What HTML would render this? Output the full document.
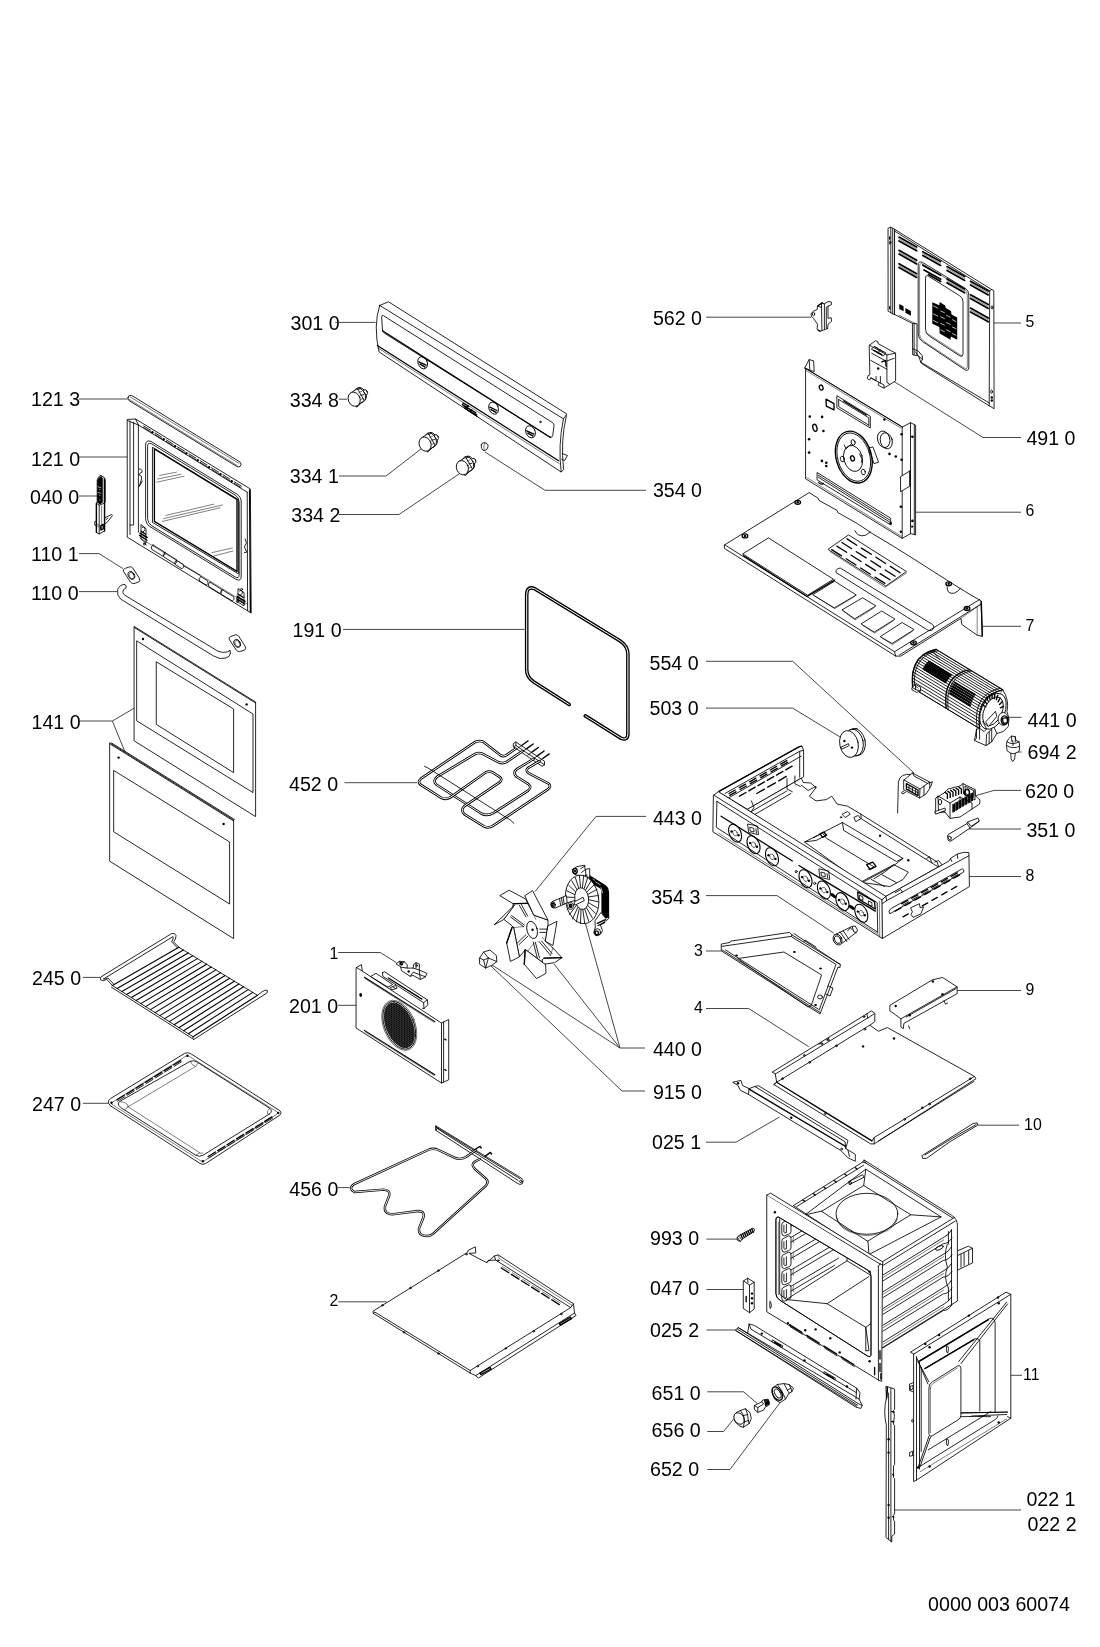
<!DOCTYPE html>
<html><head><meta charset="utf-8"><title>Exploded view</title>
<style>
html,body{margin:0;padding:0;background:#fff;}
svg{display:block;}
text{font-family:"Liberation Sans",sans-serif;fill:#000;stroke:none;}
.L{font-size:21px;}
.S{font-size:17px;stroke:#000;stroke-width:0.3px;}
.l{stroke:#333;stroke-width:0.9;fill:none;}
.p{stroke:#000;stroke-width:0.85;fill:none;stroke-linejoin:round;stroke-linecap:round;}
.w{stroke:#000;stroke-width:0.85;fill:#fff;stroke-linejoin:round;stroke-linecap:round;}
.t{stroke:#000;stroke-width:0.5;fill:none;stroke-linejoin:round;stroke-linecap:round;}
.h{stroke:#000;stroke-width:1.35;fill:none;stroke-linejoin:round;stroke-linecap:round;}
.k{fill:#000;stroke:none;}
</style></head><body>
<svg width="1100" height="1647" viewBox="0 0 1100 1647">
<rect width="1100" height="1647" fill="#fff"/>
<!-- 00_labels.svg -->
<g class="L" opacity="0.999">
<text transform="translate(31,406.2) scale(.935,1)">121 3</text>
<text transform="translate(31,466.2) scale(.935,1)">121 0</text>
<text transform="translate(30,504.2) scale(.935,1)">040 0</text>
<text transform="translate(31,560.9) scale(.935,1)">110 1</text>
<text transform="translate(31,600.2) scale(.935,1)">110 0</text>
<text transform="translate(31.5,729) scale(.935,1)">141 0</text>
<text transform="translate(32,985.2) scale(.935,1)">245 0</text>
<text transform="translate(32,1110.9) scale(.935,1)">247 0</text>
<text transform="translate(290.5,330.4) scale(.935,1)">301 0</text>
<text transform="translate(289.8,406.7) scale(.935,1)">334 8</text>
<text transform="translate(289.8,482.8) scale(.935,1)">334 1</text>
<text transform="translate(291.3,521.8) scale(.935,1)">334 2</text>
<text transform="translate(652.9,496.5) scale(.935,1)">354 0</text>
<text transform="translate(292.5,637) scale(.935,1)">191 0</text>
<text transform="translate(289,791.3) scale(.935,1)">452 0</text>
<text transform="translate(652.9,825) scale(.935,1)">443 0</text>
<text transform="translate(289,1013) scale(.935,1)">201 0</text>
<text transform="translate(652.9,1056.1) scale(.935,1)">440 0</text>
<text transform="translate(652.9,1098.8) scale(.935,1)">915 0</text>
<text transform="translate(289.3,1196) scale(.935,1)">456 0</text>
<text transform="translate(652.9,324.6) scale(.935,1)">562 0</text>
<text transform="translate(1026.4,445.3) scale(.935,1)">491 0</text>
<text transform="translate(649.5,670.1) scale(.935,1)">554 0</text>
<text transform="translate(649.5,715.2) scale(.935,1)">503 0</text>
<text transform="translate(1027.5,726.5) scale(.935,1)">441 0</text>
<text transform="translate(1027.5,759.1) scale(.935,1)">694 2</text>
<text transform="translate(1025.1,797.6) scale(.935,1)">620 0</text>
<text transform="translate(1026.4,836.5) scale(.935,1)">351 0</text>
<text transform="translate(651.2,904.3) scale(.935,1)">354 3</text>
<text transform="translate(652,1149) scale(.935,1)">025 1</text>
<text transform="translate(650,1245) scale(.935,1)">993 0</text>
<text transform="translate(650,1295.1) scale(.935,1)">047 0</text>
<text transform="translate(650,1337) scale(.935,1)">025 2</text>
<text transform="translate(651.6,1399.7) scale(.935,1)">651 0</text>
<text transform="translate(651.6,1437.4) scale(.935,1)">656 0</text>
<text transform="translate(650,1475.8) scale(.935,1)">652 0</text>
<text transform="translate(1026.4,1506.4) scale(.935,1)">022 1</text>
<text transform="translate(1027.5,1531.4) scale(.935,1)">022 2</text>
<text transform="translate(928.1,1610.9) scale(.935,1)">0000 003 60074</text>
</g><g class="S" opacity="0.999">
<text transform="translate(1025.6,326.9) scale(.935,1)">5</text>
<text transform="translate(1025.6,516.1) scale(.935,1)">6</text>
<text transform="translate(1025.6,631.1) scale(.935,1)">7</text>
<text transform="translate(1025.6,881.2) scale(.935,1)">8</text>
<text transform="translate(1025.6,995.4) scale(.935,1)">9</text>
<text transform="translate(1024.1,1130.1) scale(.935,1)">10</text>
<text transform="translate(1023.1,1379.5) scale(.935,1)">11</text>
<text transform="translate(329.4,958.9) scale(.935,1)">1</text>
<text transform="translate(329.6,1306) scale(.935,1)">2</text>
<text transform="translate(694,955.7) scale(.935,1)">3</text>
<text transform="translate(694,1013) scale(.935,1)">4</text>
</g>
<!-- 01_door.svg -->
<path class="l" d="M 79,399 L 127.6,399"/>
<path class="l" d="M 79,457 L 127.2,457"/>
<path class="l" d="M 79,496 L 97,496"/>
<path class="l" d="M 79,553.6 L 99,553.6 L 123,568.6"/>
<path class="l" d="M 79,591.6 L 117,591.6"/>
<path class="w" d="M 128,397.4 Q 128,395 131.6,395.4 L 240,462 Q 242.4,464 240,466.6 Q 238,467.4 236,466 L 129,400.6 Q 127.6,399.4 128,397.4 Z"/>
<path class="t" d="M 130.4,397 L 239,463.4"/>
<path class="t" d="M 129.2,399.4 L 237,465.4"/>
<path class="w" d="M 127.6,419.4 L 135.6,419 L 250.4,489 L 251.2,613 L 247.2,610.6 L 127.6,537.4 Z"/>
<path class="p" d="M 130,421 L 130,534.6 M 133.6,422.2 L 133.6,525 L 130,525 M 138.4,425 L 138.4,532"/>
<path class="p" d="M 127.6,420.6 L 138.4,425 L 247.2,492.2"/>
<path class="p" d="M 135.6,419 L 138.4,425"/>
<path class="p" d="M 247.2,492.2 L 247.6,610.6"/>
<path class="h" d="M 249.6,490 L 250.4,612"/>
<path class="p" d="M 143.6,426 L 150.6,430.2"/>
<path class="p" d="M 143.6,427.6 L 150.6,431.8"/>
<path class="p" d="M 155,432.9 L 161.9,437.2"/>
<path class="p" d="M 155,434.5 L 161.9,438.8"/>
<path class="p" d="M 166.3,439.9 L 173.2,444.2"/>
<path class="p" d="M 166.3,441.5 L 173.2,445.8"/>
<path class="p" d="M 177.6,446.9 L 184.6,451.2"/>
<path class="p" d="M 177.6,448.5 L 184.6,452.8"/>
<path class="p" d="M 189,453.9 L 195.9,458.1"/>
<path class="p" d="M 189,455.5 L 195.9,459.7"/>
<path class="p" d="M 200.3,460.8 L 207.2,465.1"/>
<path class="p" d="M 200.3,462.4 L 207.2,466.7"/>
<path class="p" d="M 211.6,467.8 L 218.6,472.1"/>
<path class="p" d="M 211.6,469.4 L 218.6,473.7"/>
<path class="p" d="M 223,474.8 L 229.9,479.1"/>
<path class="p" d="M 223,476.4 L 229.9,480.7"/>
<path class="p" d="M 234.3,481.8 L 241.2,486"/>
<path class="p" d="M 234.3,483.4 L 241.2,487.6"/>
<circle class="k" cx="152.4" cy="432.3" r="1.2"/>
<circle class="k" cx="163.7" cy="439.3" r="1.2"/>
<circle class="k" cx="175" cy="446.3" r="1.2"/>
<circle class="k" cx="186.4" cy="453.3" r="1.2"/>
<circle class="k" cx="197.7" cy="460.3" r="1.2"/>
<circle class="k" cx="209" cy="467.2" r="1.2"/>
<circle class="k" cx="220.4" cy="474.2" r="1.2"/>
<circle class="k" cx="231.7" cy="481.2" r="1.2"/>
<path class="p" d="M 145.6,445 Q 145.6,439.4 151,441.4 L 237,494.2 Q 241.2,497 241.2,502 L 241.2,576 Q 241.2,582 236,579.4 L 150,526.6 Q 145.6,523.8 145.6,518.6 Z"/>
<path class="p" d="M 147.6,446 Q 147.6,442 151.6,443.8 L 235.6,495.4 Q 239.2,497.6 239.2,502.6 L 239.2,574.6 Q 239.2,579 235.2,577 L 151.2,525.4 Q 147.6,523 147.6,518.6 Z"/>
<path class="h" d="M 154.4,449 L 237,499.4 L 237,571.4 L 154.4,521.4 Z"/>
<path class="p" d="M 152.8,447.4 L 238.4,499.8 L 238.4,573.8 L 152.8,522.6 Z"/>
<path class="t" d="M 159.6,475.4 L 176.4,472.2 M 157.6,479 L 181,474.2 M 156.8,482.2 L 184,476.2"/>
<path class="t" d="M 166,515.4 L 213.6,504.2 M 163.6,518.6 L 222.4,505 M 162.4,521.4 L 220,507.8"/>
<path class="t" d="M 212,552.6 L 232.4,548 M 213.6,556 L 233,551"/>
<path class="p" d="M 139.2,469 Q 142.4,468.6 142,472.2 Q 139.2,473 139.2,475 Q 142.4,475.4 141.6,479 L 139.2,486.6 L 142.4,481"/>
<path class="p" d="M 245.2,539 L 246.4,543 L 244.4,547 L 246.8,552.2 L 244.4,552.6"/>
<path class="p" d="M 153,545 L 164.2,551.9 Q 165.8,554.7 163,556.3 L 151.8,549.4 Q 150.2,546.6 153,545 Z"/>
<path class="p" d="M 165,552.6 L 176.2,559.5 Q 177.8,562.3 175,563.9 L 163.8,557 Q 162.2,554.2 165,552.6 Z"/>
<path class="p" d="M 176.4,560.2 L 183.2,564.4 Q 184.8,567.2 182,568.8 L 175.2,564.6 Q 173.6,561.8 176.4,560.2 Z"/>
<path class="p" d="M 200.8,576.6 L 207.6,580.8 Q 209.2,583.6 206.4,585.2 L 199.6,581 Q 198,578.2 200.8,576.6 Z"/>
<path class="p" d="M 210,582.2 L 221.2,589.1 Q 222.8,591.9 220,593.5 L 208.8,586.6 Q 207.2,583.8 210,582.2 Z"/>
<path class="p" d="M 222.4,589.8 L 233.6,596.7 Q 235.2,599.5 232.4,601.1 L 221.2,594.2 Q 219.6,591.4 222.4,589.8 Z"/>
<path class="t" d="M 140,538 L 247.2,604"/>
<path class="p" d="M 184,566 L 200,575.4"/>
<path class="p" d="M 141,525 L 141,539 L 146,543 L 146,529 Z M 142.4,527.4 Q 145.2,525.8 144.8,529.8 L 142.4,533 M 140,533 L 147.6,537.4 M 139.2,535.4 L 147.2,540.2 M 144,543 L 146.4,545"/>
<circle class="p" cx="144.4" cy="544" r="1"/>
<path class="p" d="M 238,589 L 238,602 L 244,605.8 L 244,593 Z M 239.6,591 Q 242.4,589 242.4,593 L 239.6,596.2 M 236.8,596.2 L 245.2,601 M 236.4,598.6 L 244.8,603.8"/>
<circle class="p" cx="237.2" cy="601.4" r="1"/>
<circle class="p" cx="241.6" cy="589.4" r="1"/>
<path class="h" d="M 140,533.4 L 146.8,537.4 M 139.6,535.4 L 146.4,539.8 M 141.2,531.4 L 145.6,534.2"/>
<path class="h" d="M 237.2,596.6 L 244.8,601.4 M 236.8,599 L 244.4,603.8 M 238.4,594.2 L 243.2,597.4"/>
<!-- 02_handle.svg -->
<path class="w" d="M 101,475.6 L 104.4,477.6 L 105.2,480 L 105.2,502 L 104.4,503.2 L 104.4,531 L 99.2,534 L 96.4,532.4 L 96.4,503.2 L 97.2,502 L 97.2,480 L 98.4,477.2 Z"/>
<path class="k" d="M 97.2,480.4 L 99.2,477.6 L 101,476.4 L 102.4,478 L 102.4,502.4 L 100,504.4 L 97.2,502.4 Z"/>
<path class="p" d="M 98,486.8 L 100.8,487.6 M 98,492.4 L 100.8,493.2" style="stroke:#fff;stroke-width:0.6"/>
<circle class="w" cx="99.8" cy="489.4" r="0.5" style="stroke:none"/>
<circle class="w" cx="99.8" cy="495.2" r="0.5" style="stroke:none"/>
<circle class="w" cx="99.8" cy="500" r="0.5" style="stroke:none"/>
<path class="h" d="M 104.6,478.8 L 104.6,531 M 96.4,503.6 L 96.4,532.4"/>
<path class="p" d="M 102.8,478 L 102.8,502.4 M 104.4,503.2 L 99.2,505.2 L 96.4,503.2 M 99.2,505.2 L 99.2,534 M 101,475.6 L 101,478"/>
<path class="t" d="M 101.6,506 L 101.6,530 M 97.2,524 L 99.2,525.2 M 97.2,526 L 99.2,527.2"/>
<path class="p" d="M 104.4,518 L 111.6,514.4 L 112.4,515.6 L 107.2,522.4 L 104.4,524 M 106,519.6 L 108,518"/>
<path class="p" d="M 96.4,521 L 94.8,521.6 L 94.8,525.2 L 96.4,526"/>
<path class="h" d="M 100.8,525.6 L 103.2,524.4 L 103.2,528.8 L 100.8,530 Z"/>
<path class="w" d="M 123.2,570.8 Q 122.8,569.2 125.2,568.4 L 129.6,566.8 Q 131.2,566.4 132.8,568 L 139.2,578 Q 140.8,580.8 138.8,582 L 134,583.6 Q 132.4,584 130.8,582.4 Z"/>
<ellipse class="p" cx="131.4" cy="575.4" rx="3" ry="4.2" transform="rotate(-28 131.4 575.4)"/>
<ellipse class="t" cx="131.6" cy="575.6" rx="2.2" ry="3.4" transform="rotate(-28 131.6 575.6)"/>
<path class="w" d="M 229,638.8 Q 228.6,637.2 231,636.4 L 235.4,634.8 Q 237,634.4 238.6,636 L 245,646 Q 246.6,648.8 244.6,650 L 239.8,651.6 Q 238.2,652 236.6,650.4 Z"/>
<ellipse class="p" cx="237.2" cy="643.4" rx="3" ry="4.2" transform="rotate(-28 237.2 643.4)"/>
<ellipse class="t" cx="237.4" cy="643.6" rx="2.2" ry="3.4" transform="rotate(-28 237.4 643.6)"/>
<path class="p" d="M 124.4,584.4 Q 120,584.4 117.6,589.6 Q 116.4,595.2 120.8,599.2 L 213.6,656 Q 220,660 226,658 Q 230,656.8 230.4,653.6"/>
<path class="p" d="M 124.4,584.4 Q 127.2,585.2 126,588 Q 122.4,589.2 122.8,592.4 Q 123.2,594.4 126,596 L 218,651.2 Q 222.4,653.2 227.2,652 Q 229.6,651.2 230,650 L 230.4,653.6"/>
<!-- 03_glass.svg -->
<path class="l" d="M 79,721 L 112.4,721 L 134.4,708 M 112.4,721 L 125,752"/>
<path class="w" d="M 134.4,626.6 L 255.6,702 L 255.6,816.6 L 134.4,741 Z"/>
<path class="p" d="M 134.4,627.6 L 255.6,703"/>
<path class="p" d="M 137,641 L 253,714 L 253,792.6 L 137,721 Z"/>
<path class="p" d="M 156.6,662 L 233.6,709 L 233.6,772.6 L 156.6,724.6 Z"/>
<circle class="k" cx="143" cy="639" r="1.2"/>
<circle class="k" cx="246.6" cy="704.4" r="1.2"/>
<path class="w" d="M 110,743 L 233.6,820 L 233.6,938.6 L 110,861.4 Z"/>
<path class="p" d="M 110.4,744.2 L 233.6,821"/>
<path class="p" d="M 111.6,743 L 234.4,819.4 L 233.6,820"/>
<path class="p" d="M 114,770.6 L 229.6,842 L 229.6,904 L 114,832 Z"/>
<circle class="k" cx="118.6" cy="757.6" r="1.2"/>
<circle class="k" cx="223.6" cy="824" r="1.2"/>
<!-- 04_rack.svg -->
<path class="l" d="M 82.9,977.4 L 100.6,977.4"/>
<path class="l" d="M 82.9,1103.3 L 108.4,1103.3"/>
<path class="p" d="M 112.4,985.5 L 178.9,947.3" style="stroke-width:1.1"/>
<path class="p" d="M 117.1,988.5 L 183.5,950.1" style="stroke-width:1.1"/>
<path class="p" d="M 121.9,991.5 L 188.2,952.9" style="stroke-width:1.1"/>
<path class="p" d="M 126.6,994.5 L 192.8,955.7" style="stroke-width:1.1"/>
<path class="p" d="M 131.4,997.5 L 197.4,958.6" style="stroke-width:1.1"/>
<path class="p" d="M 136.1,1000.5 L 202,961.4" style="stroke-width:1.1"/>
<path class="p" d="M 140.9,1003.6 L 206.6,964.2" style="stroke-width:1.1"/>
<path class="p" d="M 145.6,1006.6 L 211.3,967" style="stroke-width:1.1"/>
<path class="p" d="M 150.4,1009.6 L 215.9,969.9" style="stroke-width:1.1"/>
<path class="p" d="M 155.1,1012.6 L 220.5,972.7" style="stroke-width:1.1"/>
<path class="p" d="M 159.9,1015.6 L 225.1,975.5" style="stroke-width:1.1"/>
<path class="p" d="M 164.6,1018.6 L 229.7,978.3" style="stroke-width:1.1"/>
<path class="p" d="M 169.3,1021.6 L 234.4,981.2" style="stroke-width:1.1"/>
<path class="p" d="M 174.1,1024.7 L 239,984" style="stroke-width:1.1"/>
<path class="p" d="M 178.8,1027.7 L 243.6,986.8" style="stroke-width:1.1"/>
<path class="p" d="M 183.6,1030.7 L 248.2,989.6" style="stroke-width:1.1"/>
<path class="p" d="M 188.3,1033.7 L 252.8,992.4" style="stroke-width:1.1"/>
<path class="p" d="M 193.1,1036.7 L 257.5,995.3" style="stroke-width:1.1"/>
<path class="p" d="M 112.4,985.5 L 193.1,1036.7 M 178.9,947.3 L 257.5,995.3"/>
<path class="p" d="M 111.5,987.2 L 192.2,1038.5"/>
<path class="p" d="M 101.9,976.3 L 171.7,933.5 Q 175.2,932.7 176.1,935.7 Q 176.1,939.2 173.5,941.8 L 178.9,947.3"/>
<path class="p" d="M 103.6,978.9 L 173,936.6 Q 173.9,938.3 171.7,941.8 L 177.4,947.9"/>
<path class="p" d="M 101.9,976.3 Q 99.3,977.6 100.6,979.8 Q 102.8,982 106.7,979.3 L 112.4,985.5 M 103.6,978.9 Q 104.9,979.8 108,978 L 113.7,984.1"/>
<path class="p" d="M 193.5,1039.6 L 265.1,994.2 Q 268.6,992.9 267.3,990.3 Q 265.1,989.4 261.8,992 L 257.5,995.3"/>
<path class="p" d="M 193.5,1039.6 Q 191.8,1037.8 193.1,1036.7"/>
<path class="w" d="M 108.4,1102.8 Q 107.6,1100.2 110.6,1098.5 L 184.4,1053.5 Q 187.4,1051.8 190.5,1053.5 L 279.9,1110.7 Q 282.5,1112.9 279.9,1115.1 L 205.7,1163.5 Q 203.1,1165.2 200.1,1163.5 L 110.6,1105.9 Z"/>
<path class="t" d="M 111.5,1102.8 L 186.1,1056.1 Q 187.9,1055.3 189.6,1056.6 L 277.3,1112 Q 278.2,1113.3 276.9,1114.2 L 204.4,1160.9 Q 202.7,1161.7 200.9,1160.9 L 112.4,1104.6 Z"/>
<path class="p" d="M 118.5,1105 Q 117.2,1102.8 120.2,1101.1 L 190,1061.4 Q 193.5,1059.6 197.5,1062.3 L 269.5,1108.1 Q 272.9,1110.7 269.9,1113.7 L 203.1,1155.2 Q 199.6,1157.4 195.7,1155.2 L 121.5,1108.1 Z"/>
<path class="t" d="M 120.2,1101.5 Q 125.5,1102 128.1,1105 Q 128.1,1108.5 124.6,1109.8 M 190.5,1061.4 Q 191.8,1065.7 195.7,1066.6 L 197.9,1063.1 M 269.9,1108.1 Q 266.8,1109.8 267.3,1113.7 L 269.5,1114.2 M 195.7,1155.2 Q 198.3,1152.1 202.7,1153"/>
<path class="t" d="M 128.1,1106.8 L 195.3,1066.6 M 128.1,1106.8 L 199.6,1152.6"/>
<path class="h" d="M 117,1099.8 L 124.2,1095.3"/>
<path class="p" d="M 117.7,1101.1 L 124.9,1096.7"/>
<path class="h" d="M 126.5,1094 L 133.6,1089.6"/>
<path class="p" d="M 127.1,1095.3 L 134.3,1090.9"/>
<path class="h" d="M 135.9,1088.2 L 143,1083.8"/>
<path class="p" d="M 136.5,1089.5 L 143.7,1085.1"/>
<path class="h" d="M 145.3,1082.4 L 152.4,1078"/>
<path class="p" d="M 145.9,1083.7 L 153.1,1079.3"/>
<path class="h" d="M 154.7,1076.6 L 161.9,1072.2"/>
<path class="p" d="M 155.4,1077.9 L 162.5,1073.5"/>
<path class="h" d="M 164.1,1070.8 L 171.3,1066.4"/>
<path class="p" d="M 164.8,1072.1 L 171.9,1067.7"/>
<path class="h" d="M 173.5,1065 L 180.7,1060.6"/>
<path class="p" d="M 174.2,1066.3 L 181.3,1061.9"/>
<path class="h" d="M 208.2,1156.5 L 215.4,1152"/>
<path class="p" d="M 208.9,1157.8 L 216.1,1153.3"/>
<path class="h" d="M 217.7,1150.6 L 224.8,1146.2"/>
<path class="p" d="M 218.3,1151.9 L 225.5,1147.5"/>
<path class="h" d="M 227.1,1144.8 L 234.2,1140.3"/>
<path class="p" d="M 227.7,1146.1 L 234.9,1141.6"/>
<path class="h" d="M 236.5,1138.9 L 243.6,1134.4"/>
<path class="p" d="M 237.1,1140.2 L 244.3,1135.8"/>
<path class="h" d="M 245.9,1133 L 253.1,1128.6"/>
<path class="p" d="M 246.6,1134.3 L 253.7,1129.9"/>
<path class="h" d="M 255.3,1127.2 L 262.5,1122.7"/>
<path class="p" d="M 256,1128.5 L 263.1,1124"/>
<path class="h" d="M 264.7,1121.3 L 271.9,1116.9"/>
<path class="p" d="M 265.4,1122.6 L 272.5,1118.2"/>
<circle class="k" cx="111.5" cy="1102.8" r="1.2"/>
<circle class="k" cx="187.4" cy="1055.7" r="1.2"/>
<circle class="k" cx="278.2" cy="1112.9" r="1.2"/>
<circle class="k" cx="202.9" cy="1161.3" r="1.2"/>
<!-- 05_panel.svg -->
<path class="l" d="M 335.3,322.4 L 375.5,322.4"/>
<path class="l" d="M 338.8,399.2 L 347.1,399.2"/>
<path class="w" d="M 379.7,305.4 L 388.5,301.8 L 566.9,414.1 L 563.4,418.8 Q 557.9,446 561.2,472 L 379,351.9 Q 373.1,325.5 379.7,305.4 Z"/>
<path class="p" d="M 379.7,305.4 L 563.4,418.8"/>
<path class="h" d="M 377.3,345.5 L 558.6,460.7"/>
<path class="t" d="M 377.8,347.9 L 559.3,463.7"/>
<path class="p" d="M 383,315.5 Q 381.6,315.1 381.6,316.9 L 382.5,330.2 Q 383,332.5 384.9,333.5 L 549.9,437 Q 552.3,438 552.7,435.6 L 554.1,425.2 Q 554.1,423.3 552.3,422.4 Z"/>
<path class="h" d="M 382.5,330.7 L 550.4,437.5"/>
<ellipse class="p" cx="422.7" cy="362.8" rx="4.6" ry="6.3" transform="rotate(-25 422.7 362.8)"/>
<path class="h" d="M 418.9,361.9 L 426,365.2 M 420,364.2 L 425.2,367.1"/>
<ellipse class="p" cx="493.6" cy="408.2" rx="4.6" ry="6.3" transform="rotate(-25 493.6 408.2)"/>
<path class="h" d="M 489.8,407.2 L 496.9,410.5 M 490.9,409.6 L 496.1,412.4"/>
<ellipse class="p" cx="530.5" cy="431.8" rx="4.6" ry="6.3" transform="rotate(-25 530.5 431.8)"/>
<path class="h" d="M 526.7,430.9 L 533.8,434.2 M 527.8,433.2 L 533,436.1"/>
<circle class="p" cx="540.4" cy="421.9" r="0.8"/>
<path class="h" d="M 462.9,403 L 468.8,406.3 L 465.3,406.8 L 472.4,410.5 L 468.8,411 L 476.6,414.8 M 463.4,405.3 L 475.9,412.9 M 464.8,408.2 L 477.1,416.2 M 462.4,404.4 L 467.6,409.4"/>
<path class="p" d="M 562.2,453.6 L 567.4,455.5 L 564.5,460.7 L 561.7,459.2"/>
<path class="p" d="M 566.4,415.7 Q 560.3,441.3 563.6,469.6 L 561.2,472"/>
<ellipse class="w" cx="361.3" cy="394.2" rx="4.7" ry="7.1" transform="rotate(-25 361.3 394.2)"/>
<ellipse class="w" cx="365.5" cy="392.3" rx="1.9" ry="2.8" transform="rotate(-25 365.5 392.3)"/>
<ellipse class="w" cx="359.9" cy="395.2" rx="5.2" ry="7.6" transform="rotate(-25 359.9 395.2)"/>
<path class="w" d="M 350.9,392.8 L 357.5,388.6 L 364.1,400.4 L 357,407 Z"/>
<ellipse class="w" cx="354.2" cy="399.2" rx="5.9" ry="7.3" transform="rotate(-22 354.2 399.2)"/>
<path class="p" d="M 357.5,389.5 L 360.3,388.6 M 360.8,395.2 L 363.6,394.7 M 359.4,403.7 L 362.2,402.3"/>
<path class="t" d="M 358.9,392.3 L 361.7,391.4 M 360.8,399.4 L 363.6,398.5"/>
<ellipse class="w" cx="432.2" cy="439.1" rx="4.7" ry="7.1" transform="rotate(-25 432.2 439.1)"/>
<ellipse class="w" cx="436.4" cy="437.3" rx="1.9" ry="2.8" transform="rotate(-25 436.4 437.3)"/>
<ellipse class="w" cx="430.8" cy="440.1" rx="5.2" ry="7.6" transform="rotate(-25 430.8 440.1)"/>
<path class="w" d="M 421.8,437.7 L 428.4,433.5 L 435,445.3 L 427.9,451.9 Z"/>
<ellipse class="w" cx="425.1" cy="444.1" rx="5.9" ry="7.3" transform="rotate(-22 425.1 444.1)"/>
<path class="p" d="M 428.4,434.4 L 431.2,433.5 M 431.7,440.1 L 434.5,439.6 M 430.3,448.6 L 433.1,447.2"/>
<path class="t" d="M 429.8,437.3 L 432.7,436.3 M 431.7,444.3 L 434.5,443.4"/>
<ellipse class="w" cx="469.5" cy="462.8" rx="4.7" ry="7.1" transform="rotate(-25 469.5 462.8)"/>
<ellipse class="w" cx="473.8" cy="460.9" rx="1.9" ry="2.8" transform="rotate(-25 473.8 460.9)"/>
<ellipse class="w" cx="468.1" cy="463.7" rx="5.2" ry="7.6" transform="rotate(-25 468.1 463.7)"/>
<path class="w" d="M 459.1,461.4 L 465.7,457.1 L 472.4,468.9 L 465.3,475.5 Z"/>
<ellipse class="w" cx="462.4" cy="467.7" rx="5.9" ry="7.3" transform="rotate(-22 462.4 467.7)"/>
<path class="p" d="M 465.7,458.1 L 468.6,457.1 M 469.1,463.7 L 471.9,463.3 M 467.6,472.2 L 470.5,470.8"/>
<path class="t" d="M 467.2,460.9 L 470,459.9 M 469.1,468 L 471.9,467"/>
<path class="w" d="M 481.3,444.8 Q 481.8,442.2 484.7,442.7 L 487,443.6 Q 488.4,444.6 488,446.9 Q 487,450.7 484.2,450.7 Q 480.9,449.8 481.3,444.8 Z"/>
<path class="t" d="M 484.7,442.7 Q 483.2,446 484.2,450.7"/>
<path class="l" d="M 339,476 L 386,476 L 421,449"/>
<path class="l" d="M 339,514.5 L 399,514.5 L 459,474"/>
<path class="l" d="M 485,452 L 545,490.3 L 646,490.3"/>
<!-- 06_gasket.svg -->
<path class="l" d="M 343,629.4 L 524.8,629.4"/>
<path d="M 569.2,704.5 L 533.5,681.8 Q 526.7,677.1 526.7,669.5 L 526.7,595.1 Q 526.7,585.4 534.7,588.7 L 619.8,640.7 Q 627.9,645.9 627.9,654.2 L 627.9,733.4 Q 627.9,741.4 620.8,738.1 L 585.3,715.9" fill="none" stroke="#000" stroke-width="3.6" stroke-linejoin="round" stroke-linecap="round"/>
<path d="M 569.2,704.5 L 533.5,681.8 Q 526.7,677.1 526.7,669.5 L 526.7,595.1 Q 526.7,585.4 534.7,588.7 L 619.8,640.7 Q 627.9,645.9 627.9,654.2 L 627.9,733.4 Q 627.9,741.4 620.8,738.1 L 585.3,715.9" fill="none" stroke="#fff" stroke-width="1" stroke-linejoin="round" stroke-linecap="round"/>
<path class="l" d="M 344.5,782.7 L 417.3,782.7"/>
<path class="w" d="M 513.6,743.4 L 515.9,742 L 544.5,761.2 L 544.5,764.8 L 542.1,766.3 L 513.6,746.9 Z"/>
<path class="p" d="M 513.6,746.9 L 515.9,745.5 L 544.5,764.8 M 515.9,742 L 515.9,745.5"/>
<path class="h" d="M 522,745.2 L 528.1,740.8"/>
<path class="p" d="M 517.6,748.4 L 522,745.2"/>
<path class="h" d="M 527.1,748.4 L 533.2,744"/>
<path class="p" d="M 522.7,751.6 L 527.1,748.4"/>
<path class="h" d="M 532.2,751.9 L 538.3,747.5"/>
<path class="p" d="M 527.8,755.1 L 532.2,751.9"/>
<path class="h" d="M 538,755.4 L 544.1,751"/>
<path class="p" d="M 533.6,758.6 L 538,755.4"/>
<path class="h" d="M 543.1,758.3 L 549.2,753.9"/>
<path class="p" d="M 538.7,761.5 L 543.1,758.3"/>
<path d="M 522.7,751 L 506.7,761.9 Q 503.1,764.1 498.7,762.3 L 482.7,753.9 Q 479.2,752.2 475.7,753.6 L 436.9,776.9 Q 432.5,780.4 436.2,784.5 L 481.3,813.5 Q 487.1,816.5 493.6,812.8 L 528.1,790.6 Q 532.2,787.1 528.5,784.2 L 516.2,776.5 Q 512.5,772.1 516.9,769.2 L 533.6,759" fill="none" stroke="#000" stroke-width="2.6" stroke-linejoin="round" stroke-linecap="round"/>
<path d="M 522.7,751 L 506.7,761.9 Q 503.1,764.1 498.7,762.3 L 482.7,753.9 Q 479.2,752.2 475.7,753.6 L 436.9,776.9 Q 432.5,780.4 436.2,784.5 L 481.3,813.5 Q 487.1,816.5 493.6,812.8 L 528.1,790.6 Q 532.2,787.1 528.5,784.2 L 516.2,776.5 Q 512.5,772.1 516.9,769.2 L 533.6,759" fill="none" stroke="#fff" stroke-width="1" stroke-linejoin="round" stroke-linecap="round"/>
<path d="M 515.5,748.8 L 506,755.4 Q 503.1,757.1 500.2,755.1 L 483.5,742 Q 479.8,740.2 475.7,741.7 L 420.9,778.6 Q 417.3,781.8 420.5,784.7 L 441.3,797.8 Q 446.1,800.2 450.4,797.3 L 485.6,772.5 Q 489.3,770.5 492.9,772.5 L 499.5,776.9 Q 503.1,779.5 499.5,782.4 L 464.1,806.3 Q 460.2,810.3 464.5,814.3 L 483.9,826.3 Q 488.5,828.8 492.9,825.9 L 548.2,789.1 Q 551.8,785.9 548.2,783.3 L 528.5,773.1 Q 524.9,769.9 528.5,767.7 L 539.5,761.2" fill="none" stroke="#000" stroke-width="2.6" stroke-linejoin="round" stroke-linecap="round"/>
<path d="M 515.5,748.8 L 506,755.4 Q 503.1,757.1 500.2,755.1 L 483.5,742 Q 479.8,740.2 475.7,741.7 L 420.9,778.6 Q 417.3,781.8 420.5,784.7 L 441.3,797.8 Q 446.1,800.2 450.4,797.3 L 485.6,772.5 Q 489.3,770.5 492.9,772.5 L 499.5,776.9 Q 503.1,779.5 499.5,782.4 L 464.1,806.3 Q 460.2,810.3 464.5,814.3 L 483.9,826.3 Q 488.5,828.8 492.9,825.9 L 548.2,789.1 Q 551.8,785.9 548.2,783.3 L 528.5,773.1 Q 524.9,769.9 528.5,767.7 L 539.5,761.2" fill="none" stroke="#fff" stroke-width="1" stroke-linejoin="round" stroke-linecap="round"/>
<path class="p" d="M 424.5,766.3 L 428.9,768.5 L 510.4,820.1 L 514,823.4"/>
<!-- 07_fan.svg -->
<path class="l" d="M 646,816.4 L 596,816.4 L 535,891.6"/>
<path class="l" d="M 492,965 L 620,1048 L 645,1048 M 554,964 L 620,1048 M 585,922 L 620,1048"/>
<path class="l" d="M 491,966 L 622,1091 L 645,1091"/>
<path class="w" d="M 513.6,903.7 L 527.6,903.3 L 534.1,915.2 L 548,920.1 L 548,925.8 L 545.6,941.4 L 552.9,947.9 L 561.9,957.7 L 542.3,959.8 L 545.6,964.7 L 527.6,951.2 L 525.1,950 L 519.4,956.9 L 513.6,927.5 L 512,925.8 L 503.8,919.3 L 512.4,907.8 Z"/>
<path class="w" d="M 500.1,895.5 L 509.1,890.2 L 525.9,899.2 L 527.6,903.3 L 513.6,903.7 Z"/>
<path class="w" d="M 525.1,895.5 L 532.5,890.6 L 548,920.1 L 534.1,915.2 Z"/>
<path class="w" d="M 548,925.8 L 557,921.3 L 552.9,945.5 L 545.6,941.4 Z"/>
<path class="w" d="M 542.3,959.8 L 543.9,958.2 L 561.9,957.7 L 554.6,962.7 L 543.1,964.3 Z"/>
<path class="w" d="M 525.1,950 L 524.3,964.3 L 536.6,978.6 L 546,973.3 L 545.6,964.7 L 527.6,951.2 Z"/>
<path class="w" d="M 512,927.5 L 506.7,943 L 510.4,961.4 L 519.4,956.9 L 513.6,927.5 Z"/>
<path class="w" d="M 494.4,924.6 L 514.5,905 L 512.4,908.2 L 503.8,919.3 Z"/>
<path class="h" d="M 513.6,903.7 L 527.6,903.3 M 506.7,943 L 512,927.5 M 524.3,964.3 L 525.1,950 M 543.9,958.2 L 561.9,957.7"/>
<path class="p" d="M 519.4,905.4 L 525.9,916.8 M 521.4,904.5 L 527.6,916 M 510.4,916.8 L 523.5,926.6 M 511.6,915.6 L 524.3,925 M 517.3,943 L 525.9,934.8 M 519,944.6 L 527.6,936.5 M 533.3,942.2 L 537.4,958.6 M 535.3,942.2 L 539.4,957.7 M 539,941.4 L 550.5,955.3 M 541.5,941 L 552.1,953.6 M 539.8,929.1 L 547.2,929.1 M 539.8,932.4 L 546.4,932.4"/>
<path class="t" d="M 534.1,915.2 L 535.7,919.3 M 548,925.8 L 547.2,929.1 M 545.6,941.4 L 542.3,937.3 M 527.6,951.2 L 534.1,943 M 513.6,927.5 L 523.5,926.6 M 552.9,947.9 L 550.5,955.3"/>
<ellipse class="w" cx="532.1" cy="929.9" rx="5.1" ry="8.8" transform="rotate(-15 532.1 929.9)"/>
<circle class="k" cx="532.5" cy="929.8" r="1.2"/>
<path class="k" d="M 588.6,874.6 L 605,884.7 Q 609.1,887.4 609.1,892.8 L 609.1,916.7 L 605.7,918.4 L 601.4,912.5 L 601.4,891.4 Q 601.4,889.2 599.5,888.1 L 588.6,882.1 Z"/>
<path class="p" d="M 593,879 L 594.5,880.1 M 595.9,882.1 L 600.3,884.7 M 601,887.7 L 602.5,892.8" style="stroke:#fff;stroke-width:0.7"/>
<path class="w" d="M 572.6,869.5 L 577,866.6 L 584.6,865.2 L 585,869.5 L 589.7,868.5 L 589.7,876.8 L 585.7,881.2 L 579.2,876.1 L 574.1,873.9 Z"/>
<path class="p" d="M 580.6,868.8 L 585,865.9 M 581.4,872.5 L 585.7,869.5 L 585.7,881.2 M 584.6,876.1 L 586.8,874.6 L 586.8,879.7 Z"/>
<ellipse class="h" cx="575" cy="870.9" rx="2.2" ry="2.6"/>
<ellipse class="k" cx="575" cy="870.9" rx="1" ry="1.3"/>
<path class="w" d="M 595.2,920.5 L 601,912.5 L 605.7,918.4 L 609.1,916.7 L 608.3,919 L 600.3,924.8 L 602.5,930.6 L 600.3,934.3 L 595.9,935.7 L 593.7,932.8 L 595.2,927.7 Z"/>
<path class="h" d="M 597.4,923.4 L 605.4,919.7 M 598.1,925.5 L 604.6,922.6"/>
<ellipse class="p" cx="597.4" cy="932.2" rx="3.1" ry="3.5"/>
<ellipse class="h" cx="596.8" cy="932.8" rx="1.6" ry="1.9"/>
<ellipse class="w" cx="582.1" cy="899.4" rx="16.6" ry="24.4" transform="rotate(-8 582.1 899.4)"/>
<path class="p" d="M 588.6,899.7 L 598.4,901.8"/>
<path class="p" d="M 588.2,902.5 L 597.5,907.9"/>
<path class="p" d="M 587.3,905 L 595.4,913.5"/>
<path class="p" d="M 586.1,907.1 L 592.5,918.1"/>
<path class="p" d="M 584.6,908.6 L 588.8,921.4"/>
<path class="p" d="M 582.8,909.4 L 584.7,923.2"/>
<path class="p" d="M 581,909.5 L 580.5,923.4"/>
<path class="p" d="M 579.3,908.8 L 576.3,921.9"/>
<path class="p" d="M 577.7,907.5 L 572.5,919"/>
<path class="p" d="M 576.4,905.5 L 569.4,914.6"/>
<path class="p" d="M 575.4,903.1 L 567.1,909.3"/>
<path class="p" d="M 574.9,900.4 L 565.9,903.3"/>
<path class="p" d="M 574.9,897.5 L 565.7,897"/>
<path class="p" d="M 575.3,894.8 L 566.7,890.8"/>
<path class="p" d="M 576.1,892.3 L 568.7,885.3"/>
<path class="p" d="M 577.4,890.2 L 571.7,880.7"/>
<path class="p" d="M 578.9,888.7 L 575.3,877.4"/>
<path class="p" d="M 580.6,887.9 L 579.4,875.5"/>
<path class="p" d="M 582.4,887.8 L 583.7,875.3"/>
<path class="p" d="M 584.2,888.4 L 587.9,876.8"/>
<path class="p" d="M 585.8,889.8 L 591.7,879.8"/>
<path class="p" d="M 587.1,891.7 L 594.8,884.1"/>
<path class="p" d="M 588,894.2 L 597.1,889.4"/>
<path class="p" d="M 588.5,896.9 L 598.3,895.5"/>
<ellipse class="w" cx="581.7" cy="898.6" rx="6.9" ry="10.9" transform="rotate(-8 581.7 898.6)"/>
<path class="w" d="M 582.8,897.5 L 574.1,901.9 L 574.8,905.2 L 583.9,900.8 Z"/>
<path class="w" d="M 566.1,895.7 L 552.3,901.5 Q 550.1,904.5 552.3,907.4 L 555.2,908.1 L 566.8,903 Z"/>
<path class="p" d="M 559.5,898.6 L 560.6,905.2 M 561.4,897.9 L 562.5,904.5 M 563.2,897.2 L 564.1,903.9"/>
<ellipse class="p" cx="553.1" cy="904.8" rx="2.2" ry="3.1" transform="rotate(-10 553.1 904.8)"/>
<ellipse class="h" cx="553.1" cy="904.8" rx="1" ry="1.6" transform="rotate(-10 553.1 904.8)"/>
<ellipse class="w" cx="570.5" cy="905.9" rx="2.9" ry="3.6"/>
<ellipse class="k" cx="570.5" cy="905.9" rx="1.7" ry="2.3"/>
<path class="w" d="M 479.6,958 L 483.6,952 L 490,950 L 496.4,955.6 L 496.8,961.6 L 492,965.2 L 485.6,968 L 480,964.4 Z"/>
<path class="p" d="M 483.6,952 L 488.4,958 L 496.8,961.6 M 488.4,958 L 485.6,968 M 479.6,958 L 483.6,960 L 485.6,968 M 483.6,960 L 488.4,958"/>
<!-- 08_cover.svg -->
<path class="l" d="M 338.2,952.5 L 380.4,952.5 L 396.4,962.7"/>
<path class="l" d="M 338.2,1005.3 L 356.4,1005.3"/>
<path class="w" d="M 356.4,967.5 L 361.5,964.6 L 362.2,971 L 441.5,1023.1 L 448.7,1019.5 L 448.7,1079.8 L 441.5,1083 L 356.4,1028.2 Z"/>
<path class="p" d="M 356.4,967.5 L 362.2,971 M 441.5,1023.1 L 441.5,1083 M 443.6,1021.9 L 443.6,1082"/>
<path class="p" d="M 364.4,977.3 L 434.9,1021.6" style="stroke-width:1.1"/>
<path class="p" d="M 364.4,1030.4 L 434.9,1074.7" style="stroke-width:1.1"/>
<path class="t" d="M 365.1,978.7 L 434.2,1022.4"/>
<path class="t" d="M 365.1,1031.8 L 434.2,1075.5"/>
<ellipse class="h" cx="360.7" cy="995" rx="0.7" ry="1.3" transform="rotate(-20 360.7 995)"/>
<path class="h" d="M 444.8,1039.1 L 446,1039.8 M 444.8,1069.6 L 446,1070.4"/>
<path class="w" d="M 370.9,976.3 L 376,973.3 L 392.7,984.5 L 388.4,987 Z"/>
<path class="w" d="M 382.5,972.5 L 384.7,971.9 L 427.3,999.8 L 427.9,1004.9 L 424,1008.5 L 422.5,1008.3"/>
<path class="p" d="M 382.5,972.5 L 382.8,976.3 L 423.6,1002.7 L 424,1008.5 M 423.6,1002.7 L 427.3,999.8"/>
<path class="h" d="M 388.4,978 L 421.8,999.1"/>
<path class="p" d="M 390.7,987.5 L 395.6,985.3 L 397.1,988.2 L 392.1,989.9 Z M 392.7,986.7 L 395.6,988.5"/>
<clipPath id="gr"><ellipse cx="399.3" cy="1025.3" rx="13.5" ry="24.0" transform="rotate(-22 399.3 1025.3)"/></clipPath>
<g clip-path="url(#gr)">
<rect x="369.3" y="990.3" width="60" height="70" fill="#4a4a4a"/>
<path class="p" d="M369.3 975.3 L429.3 1011.3"/>
<path class="p" d="M369.3 977.3 L429.3 1013.3"/>
<path class="p" d="M369.3 979.3 L429.3 1015.3"/>
<path class="p" d="M369.3 981.3 L429.3 1017.3"/>
<path class="p" d="M369.3 983.3 L429.3 1019.3"/>
<path class="p" d="M369.3 985.3 L429.3 1021.3"/>
<path class="p" d="M369.3 987.3 L429.3 1023.3"/>
<path class="p" d="M369.3 989.3 L429.3 1025.3"/>
<path class="p" d="M369.3 991.3 L429.3 1027.3"/>
<path class="p" d="M369.3 993.3 L429.3 1029.3"/>
<path class="p" d="M369.3 995.3 L429.3 1031.3"/>
<path class="p" d="M369.3 997.3 L429.3 1033.3"/>
<path class="p" d="M369.3 999.3 L429.3 1035.3"/>
<path class="p" d="M369.3 1001.3 L429.3 1037.3"/>
<path class="p" d="M369.3 1003.3 L429.3 1039.3"/>
<path class="p" d="M369.3 1005.3 L429.3 1041.3"/>
<path class="p" d="M369.3 1007.3 L429.3 1043.3"/>
<path class="p" d="M369.3 1009.3 L429.3 1045.3"/>
<path class="p" d="M369.3 1011.3 L429.3 1047.3"/>
<path class="p" d="M369.3 1013.3 L429.3 1049.3"/>
<path class="p" d="M369.3 1015.3 L429.3 1051.3"/>
<path class="p" d="M369.3 1017.3 L429.3 1053.3"/>
<path class="p" d="M369.3 1019.3 L429.3 1055.3"/>
<path class="p" d="M369.3 1021.3 L429.3 1057.3"/>
<path class="p" d="M369.3 1023.3 L429.3 1059.3"/>
<path class="p" d="M369.3 1025.3 L429.3 1061.3"/>
<path class="p" d="M369.3 1027.3 L429.3 1063.3"/>
<path class="p" d="M369.3 1029.3 L429.3 1065.3"/>
<path class="p" d="M369.3 1031.3 L429.3 1067.3"/>
<path class="p" d="M369.3 1033.3 L429.3 1069.3"/>
<path class="p" d="M369.3 1035.3 L429.3 1071.3"/>
<path class="p" d="M369.3 1037.3 L429.3 1073.3"/>
<path class="p" d="M369.3 1039.3 L429.3 1075.3"/>
<path class="t" d="M368.1 990.3 L368.1 1060.3"/>
<path class="t" d="M370.7 990.3 L370.7 1060.3"/>
<path class="t" d="M373.3 990.3 L373.3 1060.3"/>
<path class="t" d="M375.9 990.3 L375.9 1060.3"/>
<path class="t" d="M378.5 990.3 L378.5 1060.3"/>
<path class="t" d="M381.1 990.3 L381.1 1060.3"/>
<path class="t" d="M383.7 990.3 L383.7 1060.3"/>
<path class="t" d="M386.3 990.3 L386.3 1060.3"/>
<path class="t" d="M388.9 990.3 L388.9 1060.3"/>
<path class="t" d="M391.5 990.3 L391.5 1060.3"/>
<path class="t" d="M394.1 990.3 L394.1 1060.3"/>
<path class="t" d="M396.7 990.3 L396.7 1060.3"/>
<path class="t" d="M399.3 990.3 L399.3 1060.3"/>
<path class="t" d="M401.9 990.3 L401.9 1060.3"/>
<path class="t" d="M404.5 990.3 L404.5 1060.3"/>
<path class="t" d="M407.1 990.3 L407.1 1060.3"/>
<path class="t" d="M409.7 990.3 L409.7 1060.3"/>
<path class="t" d="M412.3 990.3 L412.3 1060.3"/>
<path class="t" d="M414.9 990.3 L414.9 1060.3"/>
<path class="t" d="M417.5 990.3 L417.5 1060.3"/>
<path class="t" d="M420.1 990.3 L420.1 1060.3"/>
<path class="t" d="M422.7 990.3 L422.7 1060.3"/>
<path class="t" d="M425.3 990.3 L425.3 1060.3"/>
<path class="t" d="M427.9 990.3 L427.9 1060.3"/>
<path class="t" d="M430.5 990.3 L430.5 1060.3"/>
</g>
<ellipse class="p" cx="399.3" cy="1025.3" rx="14.5" ry="25" transform="rotate(-22 399.3 1025.3)"/>
<ellipse class="t" cx="399.3" cy="1025.3" rx="15.7" ry="26.2" transform="rotate(-22 399.3 1025.3)"/>
<path class="w" d="M 396.4,963.7 L 399.3,961.3 L 404.4,961.7 L 407.3,964.9 L 407,968.1 L 413.1,968.1 L 413.8,964.2 L 416,962.7 L 419.6,964.2 L 419.2,970 L 426.9,973.3 L 425.5,976.8 L 420.4,979.5 L 413.1,975.4 L 410.2,976.3 L 401.5,970.7 L 400.7,967.1 Z"/>
<path class="p" d="M 400.7,967.1 L 407,968.1 M 413.1,968.1 L 419.2,970 L 420.4,979.5 M 410.2,976.3 L 413.1,972.2 L 425.5,976.8 M 416,962.7 L 416,968.1 M 399.3,961.3 L 401.5,964.9 L 404.4,961.7"/>
<circle class="h" cx="401.2" cy="963.7" r="1.2"/>
<circle class="k" cx="408.7" cy="971.5" r="1.2"/>
<circle class="p" cx="416.7" cy="965.6" r="0.9"/>
<!-- 09_bottom.svg -->
<path class="l" d="M 338,1187.6 L 349.6,1187.6"/>
<path class="w" d="M 436,1126 L 521.2,1178 Q 524.4,1180.4 522.4,1183.6 Q 520,1185.6 517.2,1183.2 L 436,1130.4 Z"/>
<path class="p" d="M 436,1126 L 437,1128.4 L 518,1180.4 M 436,1130.4 L 437,1128.4"/>
<path class="p" d="M 436.4,1127.2 L 520,1178.8"/>
<circle class="p" cx="520.8" cy="1181.4" r="1.2"/>
<path class="h" d="M 474,1150 L 480,1146.4 L 481.2,1148 M 485,1156.4 L 490.4,1152.4 L 491.6,1154"/>
<path d="M 476,1150 L 466,1157 Q 460,1160.4 454.4,1157.6 L 438.4,1150 Q 433,1147.6 428,1150 L 353.6,1184.4 Q 348,1188.4 354.4,1192 L 383.6,1189.6 Q 390.4,1190 389.2,1195.6 L 385,1206.4 Q 383.6,1214 392.4,1214.4 L 418,1211 Q 425.6,1211.2 423.2,1218 L 419,1228.4 Q 418,1236.4 428,1236 Q 431.2,1235.6 433.2,1233.6 L 486,1185.6 Q 489.2,1181.6 485.6,1178.4 L 475,1169.2 Q 470.4,1164.4 475,1161.6 L 480,1159" fill="none" stroke="#000" stroke-width="2.4" stroke-linejoin="round" stroke-linecap="round"/>
<path d="M 476,1150 L 466,1157 Q 460,1160.4 454.4,1157.6 L 438.4,1150 Q 433,1147.6 428,1150 L 353.6,1184.4 Q 348,1188.4 354.4,1192 L 383.6,1189.6 Q 390.4,1190 389.2,1195.6 L 385,1206.4 Q 383.6,1214 392.4,1214.4 L 418,1211 Q 425.6,1211.2 423.2,1218 L 419,1228.4 Q 418,1236.4 428,1236 Q 431.2,1235.6 433.2,1233.6 L 486,1185.6 Q 489.2,1181.6 485.6,1178.4 L 475,1169.2 Q 470.4,1164.4 475,1161.6 L 480,1159" fill="none" stroke="#fff" stroke-width="0.9" stroke-linejoin="round" stroke-linecap="round"/>
<path class="l" d="M 338.3,1301.8 L 386.7,1301.8"/>
<path class="w" d="M 373.5,1310.9 L 467.6,1252.4 L 468.1,1250.4 L 475.3,1246.8 L 475.8,1252.9 L 468.9,1253.4 L 486.7,1262.6 L 494.4,1256 L 498.2,1254.9 L 573.5,1303.8 L 574.5,1313 L 576.1,1315.5 L 478.3,1378.1 L 475.8,1375.6 L 470.2,1373.1 L 373.5,1313.5 Z"/>
<path class="p" d="M 373.5,1313.5 L 374.7,1312 L 470.2,1370.5 L 570.7,1307.6 L 573.5,1303.8 M 470.2,1370.5 L 470.2,1373.1 M 475.8,1375.6 L 574.5,1313 M 494.4,1256 L 495.6,1260 L 570.7,1307.6 M 486.7,1262.6 L 488,1260.5 L 495.6,1260"/>
<path class="t" d="M 498.2,1254.9 L 499.2,1258.5 L 572,1305.3"/>
<path class="h" d="M 501.2,1268 L 508.8,1272.8"/>
<path class="t" d="M 502.2,1266.5 L 509.8,1271.2"/>
<path class="h" d="M 511.3,1274.4 L 518.9,1279.1"/>
<path class="t" d="M 512.3,1272.8 L 519.9,1277.6"/>
<path class="h" d="M 521.4,1280.7 L 529,1285.5"/>
<path class="t" d="M 522.4,1279.2 L 530,1284"/>
<path class="h" d="M 531.5,1287.1 L 539.1,1291.9"/>
<path class="t" d="M 532.5,1285.6 L 540.1,1290.3"/>
<path class="h" d="M 541.6,1293.4 L 549.2,1298.2"/>
<path class="t" d="M 542.6,1291.9 L 550.2,1296.7"/>
<path class="h" d="M 551.7,1299.8 L 559.3,1304.6"/>
<path class="t" d="M 552.7,1298.3 L 560.3,1303.1"/>
<path class="h" d="M 479.9,1373.1 L 490,1367.5 L 491.1,1369 L 480.9,1374.6 Z"/>
<path class="h" d="M 559.3,1323.7 L 570.5,1317.1 L 571.5,1318.6 L 560.3,1325.2 Z"/>
<circle class="p" cx="382.4" cy="1305.3" r="0.8"/>
<circle class="p" cx="410.4" cy="1288" r="0.8"/>
<circle class="p" cx="438.4" cy="1270.7" r="0.8"/>
<circle class="p" cx="466.4" cy="1254.2" r="0.8"/>
<circle class="p" cx="404" cy="1332.3" r="0.8"/>
<circle class="p" cx="438.4" cy="1353.5" r="0.8"/>
<circle class="p" cx="477.8" cy="1366.2" r="0.8"/>
<circle class="p" cx="505.8" cy="1348.4" r="0.8"/>
<circle class="p" cx="533.8" cy="1331.3" r="0.8"/>
<circle class="p" cx="561.3" cy="1314" r="0.8"/>
<circle class="p" cx="498.2" cy="1260.5" r="0.8"/>
<!-- 10_back.svg -->
<path class="l" d="M 994,323 L 1021,323"/>
<path class="l" d="M 894,381.5 L 983,437.5 L 1021,437.5"/>
<path class="w" d="M 888.4,228.1 L 890.8,227.2 L 894.9,229.5 L 894.9,314.6 L 892.7,313.9 L 888.4,311.3 Z"/>
<path class="p" d="M 890.8,227.2 L 890.8,312.7 M 892.7,228.4 L 892.7,313.9"/>
<path class="h" d="M 889.7,236.8 L 889.7,239 M 889.7,306.6 L 889.7,308.8"/>
<ellipse class="p" cx="890.1" cy="242.6" rx="0.7" ry="1.7"/>
<path class="w" d="M 894.9,229.5 L 991.6,289.5 L 993.8,290.6 L 994.1,408.7 L 989.2,405.8 L 989.2,402.9 L 920.8,362.2 L 922.5,359 L 917,355.4 L 912.7,354.9 L 912.4,323.4 L 894.9,314.6 Z"/>
<path class="p" d="M 989.2,402.9 L 989.7,290.9 L 991.6,289.5 M 989.7,290.9 L 894.9,231.3 M 920.8,362.2 L 921.8,363.7 L 989.2,405.8 M 912.7,323.4 L 917,323.8 L 917,355.4 M 914.1,323.8 L 914.1,354.9"/>
<path class="p" d="M 912.7,348.8 L 918.2,351 L 922.3,355.8 L 922.5,359 M 915.3,351.7 L 918.9,356.8 L 920.8,362.2"/>
<path class="t" d="M 899.3,315.4 L 915.3,323.4"/>
<ellipse class="p" cx="992.1" cy="307.4" rx="0.9" ry="1.7"/>
<ellipse class="p" cx="991.6" cy="391.7" rx="0.9" ry="1.7"/>
<circle class="k" cx="991.8" cy="397.5" r="1.2"/>
<circle class="k" cx="991.8" cy="400.5" r="1.2"/>
<path class="p" d="M 918.2,265.2 Q 918.2,260.4 922.5,262.4 L 965.5,288.5 Q 968.8,290.6 968.8,295 L 968.8,367 Q 968.8,372.1 964.4,369.5 L 922.5,341.5 Q 918.2,338.6 918.2,334.3 Z"/>
<path class="t" d="M 919.6,265.9 Q 919.6,262.4 922.8,264.2 L 964.4,289.5 Q 967.3,291.2 967.3,295.3 L 967.3,366.3 Q 967.3,370.1 964.1,368 L 923.4,341 Q 919.6,338.3 919.6,334.6 Z"/>
<path class="p" d="M 925.5,278.3 Q 925.5,274.3 928.9,276.4 L 959.6,295.7 Q 963,297.9 963,301.7 L 963,353.2 Q 963,357.8 959.2,355.5 L 929.2,336 Q 925.5,333.5 925.5,329.6 Z"/>
<path class="t" d="M 926.6,333.1 L 961.8,355.8"/>
<path class="k" d="M 932.3,302.3 L 939.3,305.2 L 939.7,302 L 945.1,305.5 L 945.8,308.1 L 950.9,311 L 951.6,314.6 L 957.2,317.5 L 957.2,339.8 L 950.9,336.5 L 950.5,339.8 L 939.7,333.5 L 939.3,327 L 932.3,323.8 Z"/>
<path class="p" d="M 933.5,305.9 L 937.8,308.1 M 933.5,313.9 L 937.8,316.1 M 933.5,320.5 L 937.8,322.6 M 940.7,311 L 944.4,312.7 M 940.7,316.8 L 944.4,318.6 M 940.7,323.4 L 944.4,325.1 M 940.7,329.9 L 944.4,331.7 M 946.5,315.4 L 950.2,317.1 M 946.5,322.6 L 950.2,324.4 M 946.5,329.9 L 950.2,331.7 M 952.4,319.7 L 956,321.5 M 952.4,327 L 956,328.7 M 952.4,333.5 L 956,335.3" style="stroke:#fff;stroke-width:0.7"/>
<path class="k" d="M 899.3,304 L 903.6,306.3 L 903.6,311.3 L 899.3,309 Z"/>
<path class="k" d="M 905.4,308.1 L 910.9,311 L 910.9,315.7 L 905.4,312.7 Z"/>
<path class="h" d="M 899,237.1 L 916.7,247" style="stroke-width:1.7"/>
<path class="h" d="M 899,240.9 L 916.7,250.8" style="stroke-width:1.7"/>
<path class="t" d="M 899,239 L 916.7,248.9"/>
<path class="h" d="M 899,250.3 L 916.7,260.3" style="stroke-width:1.7"/>
<path class="h" d="M 899,254.1 L 916.7,264.1" style="stroke-width:1.7"/>
<path class="t" d="M 899,252.2 L 916.7,262.2"/>
<path class="h" d="M 899,263.7 L 916.7,273.7" style="stroke-width:1.7"/>
<path class="h" d="M 899,267.5 L 916.7,277.4" style="stroke-width:1.7"/>
<path class="t" d="M 899,265.6 L 916.7,275.6"/>
<path class="h" d="M 922.8,251.7 L 940.6,261.6" style="stroke-width:1.7"/>
<path class="h" d="M 922.8,255.4 L 940.6,265.4" style="stroke-width:1.7"/>
<path class="t" d="M 922.8,253.5 L 940.6,263.5"/>
<path class="h" d="M 922.8,265.2 L 940.7,275.2" style="stroke-width:1.7"/>
<path class="h" d="M 924,270 L 940.7,279.3" style="stroke-width:1.7"/>
<path class="h" d="M 928.4,274.6 L 940.7,281.6" style="stroke-width:1.7"/>
<path class="h" d="M 947,266.6 L 964.7,276.6" style="stroke-width:1.7"/>
<path class="h" d="M 947,270.4 L 964.7,280.4" style="stroke-width:1.7"/>
<path class="t" d="M 947,268.5 L 964.7,278.5"/>
<path class="h" d="M 947,279 L 964.7,288.9" style="stroke-width:1.7"/>
<path class="h" d="M 947,282.8 L 964.7,292.7" style="stroke-width:1.7"/>
<path class="t" d="M 947,280.9 L 964.7,290.8"/>
<path class="t" d="M 947,283.4 L 964.7,293.3"/>
<path class="h" d="M 970.5,281.2 L 988.3,291.1" style="stroke-width:1.7"/>
<path class="h" d="M 970.5,285 L 988.3,294.9" style="stroke-width:1.7"/>
<path class="t" d="M 970.5,283.1 L 988.3,293"/>
<path class="h" d="M 970.5,294.7 L 988.3,304.6" style="stroke-width:1.7"/>
<path class="h" d="M 970.5,298.5 L 988.3,308.4" style="stroke-width:1.7"/>
<path class="t" d="M 970.5,296.6 L 988.3,306.5"/>
<path class="h" d="M 970.5,308.1 L 988.3,318" style="stroke-width:1.7"/>
<path class="h" d="M 970.5,311.9 L 988.3,321.8" style="stroke-width:1.7"/>
<path class="t" d="M 970.5,310 L 988.3,319.9"/>
<path class="w" d="M 869.5,345.2 L 875.3,340.8 L 877.7,341.5 L 878.2,343.7 L 895.6,353.2 L 895.6,380.8 L 889.8,384.5 L 884,388.1 L 878.2,385.2 L 878.9,382.3 L 870.9,377.9 L 869.5,380.1 L 867.3,378.6 L 868,375.7 L 869.5,375 Z"/>
<path class="p" d="M 869.5,345.2 L 886.9,354.9 L 895.6,353.2 M 886.9,354.9 L 886.9,382.3 L 889.8,384.5 M 870.9,360.5 L 886.9,369.2 M 871.6,353.2 L 886.2,361.2 L 894.2,358.3 M 871.6,348.8 L 874.5,346.6 L 886.2,353.2 L 883.3,355.8 Z M 874.5,346.6 L 877.5,348.1 M 877.5,348.8 L 880.4,350.3 L 877.5,352.9 M 880.4,350.3 L 883.3,352"/>
<path class="h" d="M 873.8,350.3 L 881.8,354.6 M 881.8,361.9 L 885.5,360.5 L 886.2,366.3"/>
<path class="p" d="M 878.9,382.3 L 884,384.9 L 884,388.1 M 870.9,377.9 L 876,380.8 L 876,376.5 M 880.4,376.5 L 880.4,383"/>
<circle class="k" cx="878.2" cy="368.5" r="1.2"/>
<!-- 11_rear.svg -->
<path class="l" d="M 916,512.2 L 1021,512.2"/>
<path class="w" d="M 805.9,368.5 L 902.2,427.1 L 910.5,422.7 L 915.6,425.2 L 915.6,534.9 L 910.5,533.6 L 902.2,538.4 L 805.9,479 Z"/>
<path class="w" d="M 804.7,367.9 L 809.1,359.6 L 813.6,360.8 L 814.2,371.7 L 805.9,368.5 Z"/>
<path class="p" d="M 809.1,359.6 L 809.8,369.1 M 804.7,367.9 L 900.9,425.9 L 902.2,427.1 M 902.2,427.1 L 902.2,538.4 M 910.5,422.7 L 910.5,533.6 M 914.3,425 L 914.3,534.4"/>
<path class="t" d="M 805.9,370.4 L 900.7,428"/>
<path class="t" d="M 806.6,477.5 L 901.6,536.4"/>
<path class="w" d="M 900.9,476.5 L 910.5,470.5 L 910.5,485.8 L 900.9,491.5 Z"/>
<path class="h" d="M 909.9,471.1 L 909.9,485.2"/>
<ellipse class="p" cx="853.8" cy="457.1" rx="17.6" ry="26.5" transform="rotate(-16 853.8 457.1)" style="stroke-width:1.4"/>
<ellipse class="p" cx="853.8" cy="457.1" rx="16.1" ry="24.7" transform="rotate(-16 853.8 457.1)"/>
<ellipse class="p" cx="853.1" cy="458.4" rx="9.2" ry="13.3" transform="rotate(-16 853.1 458.4)"/>
<ellipse class="p" cx="853.1" cy="442.4" rx="2" ry="2.8" transform="rotate(-16 853.1 442.4)"/>
<ellipse class="p" cx="842.3" cy="459" rx="2" ry="2.8" transform="rotate(-16 842.3 459)"/>
<ellipse class="p" cx="863.3" cy="472" rx="2" ry="2.8" transform="rotate(-16 863.3 472)"/>
<ellipse class="h" cx="852.5" cy="458.4" rx="1.9" ry="2.6" transform="rotate(-16 852.5 458.4)"/>
<path class="p" d="M 844.2,445 L 846.1,448.8 L 850.9,444.4 M 859.5,453.9 L 862,459 L 861.4,462.2"/>
<ellipse class="p" cx="883.7" cy="439.3" rx="6.1" ry="8.4" transform="rotate(-16 883.7 439.3)"/>
<ellipse class="p" cx="886.3" cy="440.8" rx="5.9" ry="8.2" transform="rotate(-16 886.3 440.8)"/>
<path class="p" d="M 837.2,395.9 L 870.3,416.3 L 870.3,428 L 837.2,408 Z"/>
<path class="p" d="M 838.7,399.5 L 868.8,417.8 L 868.8,425.2 M 838.7,399.5 L 838.7,406.7 L 868.8,425.2"/>
<path class="h" d="M 843.6,401 L 866.5,415"/>
<path class="h" d="M 826,399.1 L 834,403.6 L 834,409.9 L 826.3,406.1 Z"/>
<ellipse class="h" cx="821.2" cy="387.6" rx="1.8" ry="2.6" transform="rotate(-16 821.2 387.6)"/>
<ellipse class="h" cx="814.9" cy="427.8" rx="2" ry="3.6" transform="rotate(-16 814.9 427.8)"/>
<path class="p" d="M 817.4,472.7 L 890.7,518.3 L 890.7,524.9 L 817.4,480.1 Z"/>
<path class="p" d="M 818.3,475.2 L 890.1,520.3"/>
<path class="p" d="M 818.3,477.2 L 890.1,522.4"/>
<path class="h" d="M 818.7,482.6 Q 821.2,485.2 823.4,483.4"/>
<path class="p" d="M 869.1,447.9 L 872.9,446.9 L 878.6,462.2 L 874.4,463.5 Z"/>
<circle class="k" cx="809.8" cy="416.6" r="1.3"/>
<circle class="k" cx="822.1" cy="416.9" r="1.3"/>
<circle class="k" cx="823.4" cy="431" r="1.3"/>
<circle class="k" cx="821.9" cy="460.9" r="1.3"/>
<circle class="k" cx="826.3" cy="462.8" r="1.3"/>
<circle class="k" cx="826.3" cy="466" r="1.3"/>
<circle class="k" cx="889.5" cy="453.9" r="1.3"/>
<circle class="k" cx="895.8" cy="456.5" r="1.3"/>
<circle class="k" cx="809.1" cy="439.3" r="1.3"/>
<circle class="k" cx="809.1" cy="452.6" r="1.3"/>
<circle class="k" cx="901.6" cy="434.2" r="1.3"/>
<circle class="k" cx="901.6" cy="459.7" r="1.3"/>
<circle class="k" cx="900.9" cy="506.8" r="1.3"/>
<circle class="k" cx="900.9" cy="531.7" r="1.3"/>
<circle class="k" cx="890.7" cy="523.4" r="1.3"/>
<circle class="k" cx="884.4" cy="419.5" r="1.3"/>
<circle class="k" cx="912.4" cy="436.7" r="1.3"/>
<circle class="k" cx="912.4" cy="520.9" r="1.3"/>
<ellipse class="p" cx="912.1" cy="526.6" rx="0.6" ry="1.1"/>
<!-- 12_top.svg -->
<path class="l" d="M 983,626.3 L 1021,626.3"/>
<path class="w" d="M 724.7,544.8 L 809.2,492.6 L 818.1,498.2 L 818.9,500.3 L 837.2,510.5 L 837.7,512.5 L 857.5,523.7 L 872.8,533.9 L 893.2,546.1 L 913.5,558.8 L 932.6,571 L 954.3,584.8 L 970.8,595 L 981,600.8 L 982.3,636.5 L 977.2,635.2 L 961.9,624.5 L 960.9,618.4 L 900.8,656.1 L 895.7,656.1 L 724.7,548.6 Z"/>
<path class="p" d="M 724.7,544.8 L 894.5,651.7 L 979.7,599.5 M 894.5,651.7 L 895.7,656.1 M 899.5,655 L 981,604.1"/>
<path class="h" d="M 981.3,601.6 L 982.3,635.7"/>
<path class="t" d="M 960.9,618.4 L 981,604.1 M 977.2,607.2 L 977.2,635.2"/>
<path class="p" d="M 743,553.7 L 768.5,537.9 L 833.4,579.2 L 807.9,595 Z"/>
<path class="h" d="M 743.5,555.8 L 807.1,596.5 L 834.6,580.2"/>
<path class="p" d="M 813,594.5 L 834.6,581.2 L 856.3,595 L 834.6,607.7 Z"/>
<path class="p" d="M 842.3,609.7 L 862.6,597.8 L 875.9,605.9 L 855,618.6 Z"/>
<path class="p" d="M 861.4,623.7 L 881.7,611 L 895,619.1 L 874.6,631.9 Z"/>
<path class="p" d="M 880.5,636.5 L 902.1,622.5 L 914.1,629.6 L 892.4,643.3 Z"/>
<path class="t" d="M 814.8,596 L 834.6,608.7 L 854.5,596.5 M 843.8,611.3 L 855,619.9 L 874.3,607.7 M 863.1,625.5 L 874.6,633.1 L 893.2,620.9 M 882.5,638.2 L 892.4,644.6 L 912.3,631.4"/>
<path class="p" d="M 835.9,572.1 Q 835.1,569 840.2,568 L 932.6,624.5 Q 935.4,627.5 931.4,630.6 Q 928.8,631.1 926.8,629.6 Z"/>
<path class="p" d="M 828.3,549.1 L 848.6,534.9 L 906.4,571.5 L 886.1,585.8 Z"/>
<path class="t" d="M 830.1,551.7 L 885,587.3 L 906.4,573.1"/>
<path class="h" d="M 831.7,549.6 L 841.5,555.9"/>
<path class="h" d="M 846.2,558.8 L 856,565"/>
<path class="h" d="M 860.6,568 L 870.4,574.2"/>
<path class="h" d="M 875,577.1 L 884.9,583.4"/>
<path class="h" d="M 836.8,546.1 L 846.6,552.3"/>
<path class="h" d="M 851.2,555.2 L 861.1,561.5"/>
<path class="h" d="M 865.7,564.4 L 875.5,570.6"/>
<path class="h" d="M 880.1,573.6 L 890,579.8"/>
<path class="h" d="M 841.9,542.5 L 851.7,548.7"/>
<path class="h" d="M 856.3,551.7 L 866.2,557.9"/>
<path class="h" d="M 870.8,560.8 L 880.6,567.1"/>
<path class="h" d="M 885.2,570 L 895.1,576.2"/>
<path class="h" d="M 847,538.9 L 856.8,545.2"/>
<path class="h" d="M 861.4,548.1 L 871.3,554.3"/>
<path class="h" d="M 875.9,557.3 L 885.7,563.5"/>
<path class="h" d="M 890.3,566.4 L 900.1,572.7"/>
<ellipse class="h" cx="797.7" cy="502.3" rx="2.8" ry="2"/>
<circle class="k" cx="797.7" cy="502.3" r="1.2"/>
<ellipse class="h" cx="745" cy="535.9" rx="2.8" ry="2"/>
<circle class="k" cx="745" cy="535.9" r="1.2"/>
<ellipse class="h" cx="967" cy="608.5" rx="2.8" ry="2"/>
<circle class="k" cx="967" cy="608.5" r="1.2"/>
<ellipse class="h" cx="913.5" cy="642.8" rx="2.8" ry="2"/>
<circle class="k" cx="913.5" cy="642.8" r="1.2"/>
<ellipse class="h" cx="948.7" cy="583.8" rx="2.8" ry="2"/>
<circle class="k" cx="948.7" cy="583.8" r="1.2"/>
<path class="p" d="M 855,530.8 Q 857.5,537.2 865.2,535.4 L 870.3,532.1"/>
<path class="p" d="M 947.1,586.8 Q 946.6,594.5 954.3,593.2 Q 959.4,590.6 960.6,588.1"/>
<!-- 13_tfan.svg -->
<path class="l" d="M 1009,717.3 L 1021.6,717.3"/>
<path class="l" d="M 1016,752 L 1021.6,752"/>
<path class="w" d="M 936,649.5 L 933.4,650.2 L 930.9,651 L 928.6,651.9 L 926.4,652.9 L 924.4,654.1 L 922.6,655.4 L 920.9,656.9 L 919.3,658.5 L 917.9,660.2 L 916.7,662.1 L 915.6,664 L 914.7,666.2 L 913.9,668.4 L 913.3,670.8 L 912.8,673.4 L 912.5,676.1 L 912.4,678.9 L 912.4,681.8 L 912.5,684.9 L 912.8,688.1 L 979.6,728.6 L 1002.8,690 Z"/>
<path class="p" d="M 936,649.5 L 1002.8,690"/>
<path class="p" d="M 933.1,650.3 L 999.9,690.7"/>
<path class="p" d="M 930.4,651.2 L 997.2,691.6"/>
<path class="p" d="M 927.8,652.2 L 994.7,692.7"/>
<path class="p" d="M 925.5,653.4 L 992.3,693.9"/>
<path class="p" d="M 923.4,654.8 L 990.2,695.3"/>
<path class="p" d="M 921.4,656.4 L 988.2,696.8"/>
<path class="p" d="M 919.7,658.1 L 986.5,698.6"/>
<path class="p" d="M 918.1,660 L 984.9,700.5"/>
<path class="p" d="M 916.7,662.1 L 983.5,702.5"/>
<path class="p" d="M 915.5,664.3 L 982.3,704.8"/>
<path class="p" d="M 914.5,666.7 L 981.3,707.1"/>
<path class="p" d="M 913.7,669.2 L 980.5,709.7"/>
<path class="p" d="M 913.1,672 L 979.9,712.4"/>
<path class="p" d="M 912.6,674.9 L 979.5,715.3"/>
<path class="p" d="M 912.4,677.9 L 979.2,718.4"/>
<path class="p" d="M 912.4,681.1 L 979.2,721.6"/>
<path class="p" d="M 912.5,684.5 L 979.3,725"/>
<path class="p" d="M 912.8,688.1 L 979.6,728.6"/>
<path class="h" d="M 928.9,661.7 L 950.9,675.1" style="stroke-width:2"/>
<path class="h" d="M 927.6,663 L 949.7,676.3" style="stroke-width:2"/>
<path class="h" d="M 926.5,664.3 L 948.5,677.7" style="stroke-width:2"/>
<path class="h" d="M 925.4,665.8 L 947.5,679.1" style="stroke-width:2"/>
<path class="h" d="M 924.5,667.3 L 946.5,680.7" style="stroke-width:2"/>
<path class="h" d="M 923.6,668.9 L 945.7,682.3" style="stroke-width:2"/>
<path class="h" d="M 954.7,682.5 L 974.7,694.6" style="stroke-width:2"/>
<path class="h" d="M 953.5,684.3 L 973.5,696.5" style="stroke-width:2"/>
<path class="h" d="M 952.4,686.3 L 972.4,698.4" style="stroke-width:2"/>
<path class="h" d="M 951.4,688.4 L 971.5,700.6" style="stroke-width:2"/>
<path class="h" d="M 950.7,690.7 L 970.7,702.8" style="stroke-width:2"/>
<path class="h" d="M 950.1,693.1 L 970.1,705.3" style="stroke-width:2"/>
<path class="h" d="M 936,649.5 L 933.4,650.2 L 930.9,651 L 928.6,651.9 L 926.4,652.9 L 924.4,654.1 L 922.6,655.4 L 920.9,656.9 L 919.3,658.5 L 917.9,660.2 L 916.7,662.1 L 915.6,664 L 914.7,666.2 L 913.9,668.4 L 913.3,670.8 L 912.8,673.4 L 912.5,676.1 L 912.4,678.9 L 912.4,681.8 L 912.5,684.9 L 912.8,688.1"/>
<path class="p" d="M 938,650.8 L 935.4,651.4 L 932.9,652.2 L 930.6,653.1 L 928.4,654.1 L 926.4,655.3 L 924.6,656.6 L 922.9,658.1 L 921.3,659.7 L 919.9,661.4 L 918.7,663.3 L 917.6,665.3 L 916.7,667.4 L 915.9,669.7 L 915.3,672.1 L 914.8,674.6 L 914.5,677.3 L 914.4,680.1 L 914.4,683 L 914.5,686.1 L 914.8,689.3"/>
<path class="h" d="M 969.4,669.8 L 966.8,670.4 L 964.3,671.2 L 962,672.1 L 959.8,673.2 L 957.8,674.3 L 956,675.7 L 954.3,677.1 L 952.7,678.7 L 951.3,680.4 L 950.1,682.3 L 949,684.3 L 948.1,686.4 L 947.3,688.7 L 946.7,691.1 L 946.2,693.6 L 945.9,696.3 L 945.8,699.1 L 945.8,702.1 L 945.9,705.1 L 946.2,708.3"/>
<path class="p" d="M 971.4,671 L 968.8,671.6 L 966.3,672.4 L 964,673.3 L 961.8,674.4 L 959.8,675.6 L 958,676.9 L 956.3,678.3 L 954.7,679.9 L 953.3,681.6 L 952.1,683.5 L 951,685.5 L 950.1,687.6 L 949.3,689.9 L 948.7,692.3 L 948.2,694.8 L 947.9,697.5 L 947.8,700.3 L 947.8,703.3 L 947.9,706.3 L 948.2,709.6"/>
<path class="h" d="M 1002.8,690 L 1000.2,690.7 L 997.7,691.4 L 995.4,692.3 L 993.2,693.4 L 991.2,694.6 L 989.4,695.9 L 987.7,697.3 L 986.1,698.9 L 984.8,700.7 L 983.5,702.5 L 982.4,704.5 L 981.5,706.7 L 980.7,708.9 L 980.1,711.3 L 979.7,713.9 L 979.3,716.5 L 979.2,719.3 L 979.2,722.3 L 979.3,725.4 L 979.6,728.6"/>
<path class="p" d="M 1000.1,688.4 L 997.5,689 L 995,689.8 L 992.7,690.7 L 990.6,691.8 L 988.6,693 L 986.7,694.3 L 985,695.7 L 983.5,697.3 L 982.1,699 L 980.8,700.9 L 979.8,702.9 L 978.8,705 L 978.1,707.3 L 977.4,709.7 L 977,712.2 L 976.7,714.9 L 976.5,717.7 L 976.5,720.7 L 976.7,723.7 L 977,727"/>
<path class="w" d="M 1002.8,690 Q 1009.5,699.8 1007,711.3 Q 1010.2,718.9 1008.3,726.5 L 1003.2,731.6 L 996.8,733.5 L 991.7,741.8 L 986,745.6 L 974.5,740.5 L 976.5,729.1 L 979.6,728.6"/>
<ellipse class="w" cx="993" cy="711.3" rx="11.7" ry="19.1" transform="rotate(25 993 711.3)"/>
<ellipse class="p" cx="993" cy="711.3" rx="8.9" ry="15.3" transform="rotate(25 993 711.3)"/>
<path class="h" d="M 985.8,706.9 L 982.8,705.2"/>
<path class="h" d="M 986.8,703.8 L 984.2,700.8"/>
<path class="h" d="M 988.3,701.2 L 986.3,697.2"/>
<path class="h" d="M 990.1,699.5 L 988.9,694.8"/>
<path class="h" d="M 992.2,698.6 L 991.9,693.6"/>
<path class="h" d="M 994.3,698.7 L 994.9,693.7"/>
<path class="h" d="M 996.3,699.8 L 997.7,695.3"/>
<path class="h" d="M 998.1,701.8 L 1000.2,698"/>
<path class="h" d="M 999.5,704.5 L 1002.2,701.8"/>
<path class="h" d="M 1000.3,707.8 L 1003.4,706.4"/>
<path class="w" d="M 986,721.5 L 995.5,711.3 L 996.8,716.4 L 988.5,726.5 Z"/>
<ellipse class="w" cx="1003.2" cy="718.9" rx="5.1" ry="6.4"/>
<ellipse class="h" cx="1004.5" cy="720.2" rx="3.3" ry="4.3"/>
<path class="h" d="M 1002.5,718.3 L 1007,717.6 L 1007.6,722.7 L 1003.2,723.4 Z"/>
<path class="p" d="M 976.5,729.1 L 976.5,738 L 974.5,740.5 M 979.6,729.1 L 979.6,739.3 M 986,745.6 L 986.6,734.2 L 991.7,729.1 L 991.7,741.8 M 989.2,731.6 L 989.2,743.7 M 994.3,727.8 L 996.8,733.5"/>
<path class="p" d="M 982.8,721.5 L 986.6,729.1 L 984.1,731.6 L 979,727.8"/>
<path class="w" d="M 912.2,687.3 L 915.4,684.5 L 920.5,687.1 L 920.5,690.9 L 916.6,692.4 L 912.2,689.9 Z M 915.4,684.5 L 915.6,689.6 L 920.5,690.9 M 915.6,689.6 L 912.2,687.3"/>
<path class="p" d="M 925.5,654 L 933.2,651.5 L 936,649.5 M 933.2,651.5 L 937,656.5 L 939.5,659.1"/>
<path class="w" d="M 1008.9,738.6 L 1011.5,736.1 L 1015.3,736.7 L 1015.9,740.5 L 1019.1,741.8 L 1019.7,746.3 L 1019.1,751.4 L 1015.3,753.3 L 1014.6,759 L 1012.7,761.5 L 1011.1,759 L 1010.8,753.3 L 1007,750.7 L 1006.4,744.4 L 1007,741.8 Z"/>
<path class="p" d="M 1007,741.8 Q 1012.1,745.6 1019.1,741.8 M 1007,745.6 Q 1012.7,749.5 1019.5,746.3 M 1010.8,753.3 Q 1013.1,754.3 1015.3,753.3 M 1011.5,736.1 L 1011.8,741.2 M 1015.3,736.7 L 1015.3,741.8 M 1012.7,740.5 L 1013.1,745.6"/>
<!-- 14_chassis.svg -->
<path class="l" d="M 969,876.5 L 1021,876.5"/>
<path class="w" d="M 718.5,791.7 L 798.9,746.9 L 801.8,746.1 L 803.6,750.3 L 803.6,776.7 L 801.2,778.2 L 747.5,809.3 L 729,798.3 Z"/>
<path class="p" d="M 725,793.5 L 799.7,751.3 L 799.7,777.2 M 729,797.7 L 801.2,756.1 M 799.7,751.3 L 803.6,750.3"/>
<path class="h" d="M 729,793.5 L 735.2,790"/>
<path class="h" d="M 739.3,787.6 L 745.5,784.1"/>
<path class="h" d="M 749.7,781.8 L 755.8,778.2"/>
<path class="h" d="M 760,775.9 L 766.2,772.3"/>
<path class="h" d="M 770.3,770 L 776.5,766.4"/>
<path class="h" d="M 780.6,764.1 L 786.8,760.6"/>
<path class="h" d="M 729.8,795.4 L 736,791.8"/>
<path class="h" d="M 740.1,789.5 L 746.3,786"/>
<path class="h" d="M 750.4,783.6 L 756.6,780.1"/>
<path class="h" d="M 760.8,777.7 L 767,774.2"/>
<path class="h" d="M 771.1,771.8 L 777.3,768.3"/>
<path class="h" d="M 781.4,765.9 L 787.6,762.4"/>
<path class="h" d="M 739.5,796.2 L 746,792.5"/>
<path class="h" d="M 748.8,790.9 L 755.2,787.2"/>
<path class="h" d="M 758,785.6 L 764.5,781.9"/>
<path class="h" d="M 767.2,780.3 L 773.7,776.7"/>
<path class="h" d="M 776.5,775.1 L 782.9,771.4"/>
<path class="h" d="M 785.7,769.8 L 792.1,766.1"/>
<path class="h" d="M 756.7,793.5 L 764.4,789.1"/>
<path class="h" d="M 767.7,787.2 L 775.4,782.8"/>
<path class="h" d="M 778.7,780.9 L 786.3,776.4"/>
<path class="h" d="M 718.5,791.7 L 798.9,746.9 L 801.8,746.1"/>
<path class="w" d="M 747.5,809.3 L 801.2,778.2 L 803.3,782.5 L 810.7,783 L 816,787.7 L 809.4,796.2 L 816,800.9 L 826.5,799.6 L 831.8,796.2 L 837.1,804.1 L 847.6,806.2 L 860.8,814.1 L 937.3,862.1 L 938.6,866.8 L 884.6,897.1 L 881.9,899.8 Z"/>
<path class="p" d="M 751.4,811.5 L 787,790.9 M 755.4,814.1 L 791,793.5 M 787,778.5 L 787,789 L 792.3,791.7 M 794.9,775.9 L 794.9,783.8 L 800.2,786.4 M 801.2,785.1 L 808.1,790.4 L 816,786.4 L 816,787.7"/>
<path class="p" d="M 751.4,800.9 L 754,807.5 L 751.4,811.5"/>
<path class="p" d="M 842.4,814.1 L 847.6,811.5 L 850.3,814.1 L 845.5,817.3 Z M 854.2,817.3 L 858.2,815.4 L 860.8,818.8 L 856.1,821.5 Z"/>
<path class="p" d="M 804.9,841.8 L 842.4,822.5 L 903,858.4 L 893.8,865.5 L 866.1,880.5 L 861.3,882.6 Z"/>
<path class="p" d="M 842.4,822.5 L 843.7,830.4 L 896.4,861.5 L 903,858.4 M 813.4,837.8 L 822.6,833.1 L 826.5,838.3 L 868.7,863.7 L 874,866.8 L 868.7,869.5 M 804.9,841.8 L 816,840.5 L 823.9,836.5"/>
<path class="p" d="M 860.8,882.1 L 893.8,864.7 L 908.3,872.1 L 903,879.5 L 889.8,886.6 L 881.9,885.3 Z M 871.4,879.5 L 884.6,886.6 M 881.9,874.7 L 896.4,882.6 M 893.8,864.7 L 884.6,872.1 L 874,878.7"/>
<path class="h" d="M 820,833.9 L 823.9,832 L 826.5,835.2 L 822.6,837.3 Z M 866.6,864.7 L 872.7,862.1 L 876.1,866.3 L 870.1,869.5 Z"/>
<circle class="k" cx="908.3" cy="860.2" r="1.2"/>
<circle class="k" cx="880.1" cy="835.7" r="1.2"/>
<circle class="p" cx="841" cy="817.3" r="0.7"/>
<path class="p" d="M 860.8,814.1 L 861.3,818.8 L 934.6,864.7 L 938.6,866.8 M 926.7,858.4 L 929.4,856.8 L 932,862.9 M 934.6,862.1 L 938.6,860.5 L 942,864.7 L 937.3,868.1"/>
<path class="w" d="M 881.9,899.8 L 885.9,896.3 L 949.1,861 L 950.5,858.4 L 957.1,854.2 L 963.6,852.3 L 968.9,852.6 L 969.4,886.6 L 882.4,938.5 Z"/>
<path class="p" d="M 885.9,896.3 L 886.7,900.6 L 968.9,855.7 M 882.4,903.7 L 886.7,900.6 M 950.5,858.4 L 951.8,861.5 M 895.1,892.7 L 900.9,889.5 L 902.5,892.1 M 957.1,854.2 L 957.8,858.4"/>
<path class="p" d="M 890.4,909 Q 887.7,911.1 889.8,913.8 L 963.6,872.1 Q 964.7,869.5 962.6,868.9 Z"/>
<path class="h" d="M 901.7,903.7 L 907.8,900.3"/>
<path class="h" d="M 911.6,898.2 L 917.7,894.8"/>
<path class="h" d="M 921.5,892.7 L 927.6,889.3"/>
<path class="h" d="M 931.3,887.3 L 937.5,883.8"/>
<path class="h" d="M 941.2,881.8 L 947.4,878.4"/>
<path class="h" d="M 951.1,876.3 L 957.3,872.9"/>
<path class="h" d="M 895.1,911.1 L 901,907.8"/>
<path class="h" d="M 904.9,905.6 L 910.8,902.3"/>
<path class="h" d="M 914.7,900.1 L 920.6,896.8"/>
<path class="h" d="M 924.5,894.6 L 930.3,891.3"/>
<path class="h" d="M 934.3,889.1 L 940.1,885.8"/>
<path class="h" d="M 944.1,883.6 L 949.9,880.3"/>
<path class="h" d="M 953.9,878.1 L 959.7,874.8"/>
<path class="h" d="M 903,916.9 L 908.3,913.9"/>
<path class="h" d="M 912.7,911.4 L 918,908.4"/>
<path class="h" d="M 922.3,905.9 L 927.7,902.9"/>
<path class="h" d="M 932,900.4 L 937.3,897.4"/>
<path class="h" d="M 941.7,894.9 L 947,891.9"/>
<path class="h" d="M 951.3,889.5 L 956.7,886.4"/>
<path class="p" d="M 902.5,905.3 L 908.6,901.9"/>
<path class="p" d="M 912.3,899.8 L 918.4,896.4"/>
<path class="p" d="M 922.2,894.3 L 928.3,890.9"/>
<path class="p" d="M 932,888.8 L 938.1,885.4"/>
<path class="p" d="M 941.8,883.3 L 948,879.9"/>
<path class="p" d="M 951.7,877.9 L 957.8,874.4"/>
<path class="w" d="M 910.9,907.7 L 919.4,903.7 L 920.1,907.7 L 923.6,906.9 L 920.9,913.8 L 913,917.4 L 910.9,914.3 L 912.2,912.2 Z"/>
<path class="w" d="M 713.7,795.1 L 718.5,791.7 L 885.9,896.3 L 881.9,899.8 L 882.4,938.5 L 713.2,832 Z"/>
<path class="p" d="M 713.7,795.1 L 881.9,899.8 M 716.9,801.4 L 877.2,902.7 L 877.7,932.2 M 716.9,801.4 L 716.3,827.3 L 877.7,932.2"/>
<path class="t" d="M 879.3,901.1 L 879.8,937"/>
<path class="h" d="M 721.1,816.2 L 792.3,861 M 798.9,865.5 L 875.3,911.1"/>
<ellipse class="p" cx="735.1" cy="833.1" rx="5.8" ry="9.5" transform="rotate(-24 735.1 833.1)" style="stroke-width:1.1"/>
<ellipse class="t" cx="735.1" cy="833.1" rx="2.1" ry="2.9" transform="rotate(-24 735.1 833.1)"/>
<circle class="k" cx="731.6" cy="831.5" r="1.2"/>
<circle class="k" cx="738.5" cy="835.2" r="1.2"/>
<ellipse class="p" cx="753.5" cy="844.7" rx="5.8" ry="9.5" transform="rotate(-24 753.5 844.7)" style="stroke-width:1.1"/>
<ellipse class="t" cx="753.5" cy="844.7" rx="2.1" ry="2.9" transform="rotate(-24 753.5 844.7)"/>
<circle class="k" cx="750.1" cy="843.1" r="1.2"/>
<circle class="k" cx="756.9" cy="846.8" r="1.2"/>
<ellipse class="p" cx="772" cy="856.8" rx="5.8" ry="9.5" transform="rotate(-24 772 856.8)" style="stroke-width:1.1"/>
<ellipse class="t" cx="772" cy="856.8" rx="2.1" ry="2.9" transform="rotate(-24 772 856.8)"/>
<circle class="k" cx="768.5" cy="855.2" r="1.2"/>
<circle class="k" cx="775.4" cy="858.9" r="1.2"/>
<ellipse class="p" cx="805.5" cy="878.7" rx="5.8" ry="9.5" transform="rotate(-24 805.5 878.7)" style="stroke-width:1.1"/>
<ellipse class="t" cx="805.5" cy="878.7" rx="2.1" ry="2.9" transform="rotate(-24 805.5 878.7)"/>
<circle class="k" cx="802" cy="877.1" r="1.2"/>
<circle class="k" cx="808.9" cy="880.8" r="1.2"/>
<ellipse class="p" cx="823.9" cy="890" rx="5.8" ry="9.5" transform="rotate(-24 823.9 890)" style="stroke-width:1.1"/>
<ellipse class="t" cx="823.9" cy="890" rx="2.1" ry="2.9" transform="rotate(-24 823.9 890)"/>
<circle class="k" cx="820.5" cy="888.4" r="1.2"/>
<circle class="k" cx="827.3" cy="892.1" r="1.2"/>
<ellipse class="p" cx="842.4" cy="901.6" rx="5.8" ry="9.5" transform="rotate(-24 842.4 901.6)" style="stroke-width:1.1"/>
<ellipse class="t" cx="842.4" cy="901.6" rx="2.1" ry="2.9" transform="rotate(-24 842.4 901.6)"/>
<circle class="k" cx="838.9" cy="900" r="1.2"/>
<circle class="k" cx="845.8" cy="903.7" r="1.2"/>
<ellipse class="p" cx="861.3" cy="913.2" rx="5.8" ry="9.5" transform="rotate(-24 861.3 913.2)" style="stroke-width:1.1"/>
<ellipse class="t" cx="861.3" cy="913.2" rx="2.1" ry="2.9" transform="rotate(-24 861.3 913.2)"/>
<circle class="k" cx="857.9" cy="911.6" r="1.2"/>
<circle class="k" cx="864.8" cy="915.3" r="1.2"/>
<path class="h" d="M 831.8,894.5 L 835,896.9 M 850.3,906.4 L 853.4,908.5" style="stroke-width:3"/>
<circle class="p" cx="796.2" cy="871.6" r="1.1"/>
<circle class="p" cx="814.7" cy="883.4" r="1.1"/>
<path class="t" d="M 718.5,833.1 L 879.3,934.8"/>
<path class="p" d="M 748,824.1 L 757.5,826 L 758.5,834.7 L 749,832.5 Z M 750.1,827.3 L 753.8,828.3 L 754,832 L 750.6,831.2 Z M 755.9,828.9 L 756.4,833.1"/>
<path class="p" d="M 819.2,868.9 L 828.7,871 L 829.7,879.5 L 820.2,877.4 Z M 821.3,872.1 L 825,873.1 L 825.2,876.8 L 821.8,876 Z M 827.1,873.7 L 827.6,877.9"/>
<path class="h" d="M 857.7,891.9 L 874.5,901.6 L 875.3,909 L 858.2,899 Z"/>
<path class="p" d="M 859.8,895.3 L 862.9,896.9 L 862.9,900.6 L 859.8,899 Z M 868.7,901.1 L 871.9,902.7 L 871.9,906.4 L 868.7,904.8 Z"/>
<!-- 15_small.svg -->
<path class="l" d="M 706,708.1 L 792.7,708.1 L 840,737"/>
<path class="l" d="M 706,661.3 L 792.7,661.3 L 914,773"/>
<path class="l" d="M 976,795.6 L 994,790.4 L 1021,790.4"/>
<path class="l" d="M 969,829 L 1021,829"/>
<ellipse class="w" cx="856" cy="742" rx="9.2" ry="13.6" transform="rotate(-12 856 742)"/>
<ellipse class="w" cx="854" cy="742.6" rx="9.2" ry="13.6" transform="rotate(-12 854 742.6)"/>
<path class="p" d="M 850,729.6 L 857.2,728.4 M 851.6,756.4 L 858.4,755.2"/>
<ellipse class="w" cx="849" cy="744" rx="9.2" ry="13.6" transform="rotate(-12 849 744)"/>
<path class="w" d="M 841,747.6 L 841.6,749.2 L 849.2,745.6 L 848.6,744 Z"/>
<circle class="k" cx="844.4" cy="741" r="1.2"/>
<circle class="k" cx="852" cy="747.6" r="1.2"/>
<path class="p" d="M 911.2,774.4 Q 900,773 898.4,782 L 897.6,813"/>
<path class="w" d="M 904,780 L 912.4,773 L 929.6,782 L 930,788 L 926,794 L 919.6,798 L 904,790 Z"/>
<path class="p" d="M 904,780 L 920,789 L 919.6,798 M 920,789 L 929.6,782 M 912.4,773 L 914,776 L 928,783.6 M 924,786.4 L 924,795"/>
<path class="h" d="M 906.4,783.6 L 918,790 L 918,795.6 L 906.4,789.2 Z"/>
<path class="p" d="M 909,786.4 L 909,790.4 M 912.4,788 L 912.4,792.4 M 915.6,789.6 L 915.6,794 M 906.4,786.4 L 918,792.8"/>
<path class="p" d="M 904,791 L 901.6,792.4 L 902.4,794 L 905.6,792.4 M 929.6,783 L 932.4,781.6 L 931,786 L 929.6,787.6"/>
<path class="w" d="M 936,798 L 944,793 L 948,789 L 960,786 L 963,783.6 L 975,789.6 L 975.6,796 L 980,800 L 979.6,804 L 972,809 L 960,817 L 950,818.4 L 945,812 L 936,813 Z"/>
<path class="p" d="M 963,783.6 L 963.6,794 L 975,800 L 975,789.6 M 965,786.4 L 965.6,793.6 L 973.6,797.6 L 973.6,791 Z"/>
<path class="p" d="M 936,798 L 938,796 L 950,803 L 950,818 M 938,796 L 938.4,810 L 945,812 M 950,803 L 960,797 L 972,803 L 972,809 M 960,797 L 960,804"/>
<path class="h" d="M 945,792.4 L 947.4,794 L 947.4,798.4"/>
<path class="h" d="M 947.8,791.4 L 950.2,793 L 950.2,797.4"/>
<path class="h" d="M 950.6,790.4 L 953,792 L 953,796.4"/>
<path class="h" d="M 953.4,789.4 L 955.8,791 L 955.8,795.4"/>
<path class="h" d="M 956.2,788.4 L 958.6,790 L 958.6,794.4"/>
<path class="h" d="M 959,787.4 L 961.4,789 L 961.4,793.4"/>
<path class="h" d="M 953,812 L 953,804.4 M 954.4,811.2 L 954.4,804"/>
<path class="h" d="M 956,810.2 L 956,802.6 M 957.4,809.4 L 957.4,802.2"/>
<path class="h" d="M 959,808.4 L 959,800.8 M 960.4,807.6 L 960.4,800.4"/>
<path class="h" d="M 962,806.6 L 962,799 M 963.4,805.8 L 963.4,798.6"/>
<path class="h" d="M 965,804.8 L 965,797.2 M 966.4,804 L 966.4,796.8"/>
<path class="h" d="M 968,803 L 968,795.4 M 969.4,802.2 L 969.4,795"/>
<path class="h" d="M 971,801.2 L 971,793.6 M 972.4,800.4 L 972.4,793.2"/>
<ellipse class="h" cx="967" cy="792.4" rx="2.4" ry="3.2"/>
<path class="w" d="M 935,811.6 L 945,808 L 945.6,810.4 L 936,814 Z"/>
<ellipse class="p" cx="940" cy="802" rx="1.6" ry="2.8"/>
<path class="w" d="M 948,838 Q 946.4,836 948.4,834.4 L 967,823.6 L 967.6,822 L 978,818 L 979.2,821.2 L 970,828 L 951,841 Q 949,842 948,840 Z"/>
<path class="p" d="M 967,823.6 L 970,828 M 967.6,822 L 971,826.4 L 979.2,821.2"/>
<ellipse class="p" cx="949.6" cy="838" rx="1.4" ry="2.2" transform="rotate(-30 949.6 838)"/>
<!-- 16_mid.svg -->
<path class="l" d="M 706,895.6 L 777,895.6 L 833.6,933"/>
<path class="l" d="M 706,951 L 721.6,951"/>
<path class="l" d="M 706,1008.5 L 748.7,1008.5 L 808.7,1046.7"/>
<path class="l" d="M 957.5,990.5 L 1021,990.5"/>
<path class="l" d="M 706,1142.2 L 736,1142.2 L 779.6,1117"/>
<path class="l" d="M 978,1125.2 L 1019,1125.2"/>
<path class="w" d="M 834.4,935 L 852,926.4 L 855.2,926 L 857.6,930 L 856.4,932.4 L 841.6,943.6 Z"/>
<path class="p" d="M 840,932 L 847,941.6 M 843.2,930.8 L 849.2,939.6 M 852,926.4 L 854,932 L 856.4,932.4 M 847.6,931 L 850.4,927.6 L 852.4,930"/>
<ellipse class="w" cx="837.6" cy="939.6" rx="4.2" ry="5.6" transform="rotate(-25 837.6 939.6)"/>
<ellipse class="p" cx="837.6" cy="939.6" rx="2.8" ry="4" transform="rotate(-25 837.6 939.6)"/>
<path class="w" d="M 721.6,944 L 730,942.4 L 730.4,941.2 L 789.6,932.4 L 792,935 L 838,963 L 840.4,964.4 L 840,967.6 L 838,967 L 820,1014 L 721.6,951 Z"/>
<path class="p" d="M 721.6,946.4 L 791,936.4 L 836,964.4 L 819.2,1010 M 792,935 L 791,936.4 M 725.6,950 L 818.4,1009.2 M 722.4,950 L 820,1012.4"/>
<path class="p" d="M 738.4,958.4 L 784,952 L 821.6,975 L 811.2,1005.6 L 808,1007 L 740,960.4 Z"/>
<path class="p" d="M 794,933.6 L 840,964.4 M 804,941.6 L 805,940 L 816,947 M 828,986 L 833,988 L 830,996 L 825.6,994"/>
<ellipse class="k" cx="736.6" cy="955.6" rx="1.4" ry="1"/>
<ellipse class="k" cx="794.4" cy="952" rx="1.4" ry="1"/>
<ellipse class="k" cx="820.6" cy="968.4" rx="1.4" ry="1"/>
<ellipse class="k" cx="815.6" cy="1005" rx="1.4" ry="1"/>
<ellipse class="p" cx="820" cy="997" rx="2.4" ry="2"/>
<path class="w" d="M 772.4,1072 L 866.9,1013.8 L 871.3,1010.9 L 874.8,1013.2 L 874.8,1021.7 L 869.8,1025.2 L 878.5,1031.3 L 887.3,1027.5 L 974.5,1076.4 L 976,1078.7 L 874.2,1143.9 L 870.7,1143.9 L 773.8,1084.5 L 776.7,1082.2 L 775.3,1074 Z"/>
<path class="p" d="M 775.3,1074 L 869.8,1016.7 L 874.2,1013.8 M 776.7,1082.2 L 869.8,1025.2 M 773.8,1084.5 L 776.7,1082.2 M 871.9,1140.9 L 874.2,1137.5 L 974.5,1076.4 M 874.2,1137.5 L 874.2,1143.9 M 878.5,1140.9 L 973.7,1081.6"/>
<path class="h" d="M 776.7,1082.2 L 871.9,1140.9"/>
<path class="p" d="M 866.9,1013.8 L 867.8,1018.2 M 818.9,1044.4 L 821.8,1042.6 M 826.2,1040 L 829.1,1038"/>
<circle class="p" cx="821.8" cy="1043.8" r="0.9"/>
<circle class="p" cx="828.2" cy="1040" r="0.9"/>
<circle class="p" cx="804.4" cy="1055.4" r="0.9"/>
<circle class="p" cx="864" cy="1016.7" r="0.9"/>
<circle class="p" cx="782.5" cy="1078.7" r="0.9"/>
<circle class="p" cx="809.6" cy="1062.4" r="0.9"/>
<circle class="p" cx="836.4" cy="1045.8" r="0.9"/>
<circle class="p" cx="864.9" cy="1029.2" r="0.9"/>
<circle class="p" cx="825.3" cy="1113.6" r="0.9"/>
<circle class="p" cx="904.7" cy="1119.4" r="0.9"/>
<circle class="p" cx="922.2" cy="1107.8" r="0.9"/>
<circle class="p" cx="929.5" cy="1104" r="0.9"/>
<circle class="p" cx="970.2" cy="1078.7" r="0.9"/>
<circle class="k" cx="863.1" cy="1046.4" r="1.2"/>
<circle class="k" cx="894" cy="1038.5" r="1.2"/>
<path class="w" d="M 890.2,1005.1 L 932.4,979.8 L 942.5,977.5 L 957.1,986.8 L 957.1,993.7 L 903.9,1023.4 L 903.3,1028.7 L 900.9,1026.9 L 900.9,1018.8 L 894.5,1014.1 L 890.2,1011.2 Z"/>
<path class="p" d="M 900.9,1018.8 L 957.1,986.8 M 906.2,1017 L 956.2,988.5 M 944,1000.7 L 945.5,1004.2 L 947.5,1003.1 M 908.5,1025.7 L 909.7,1028.7"/>
<circle class="k" cx="895.7" cy="1006" r="1.2"/>
<circle class="k" cx="932.9" cy="981.5" r="1.2"/>
<circle class="k" cx="942.5" cy="994.3" r="1.2"/>
<circle class="k" cx="909.7" cy="1015.3" r="1.2"/>
<path class="w" d="M 733.1,1082.2 L 740.9,1080.4 L 742.7,1085.7 L 749.1,1088.6 L 754.9,1086.5 L 845.1,1141.8 L 845.7,1148.5 L 855.3,1154.3 L 855.3,1161.3 L 848,1157.8 L 840.7,1150.5 L 748.5,1094.4 L 740.4,1090.3 L 738,1085.7 Z"/>
<path class="p" d="M 749.1,1088.6 L 748.5,1094.4 M 754.9,1086.5 L 758.4,1085.7 L 848,1140.4 L 845.7,1148.5 M 848,1150.5 L 849.5,1156.4"/>
<path class="h" d="M 749.1,1089.2 L 845.1,1146.2"/>
<circle class="k" cx="738" cy="1083.3" r="1.2"/>
<circle class="p" cx="841.6" cy="1149.1" r="0.9"/>
<circle class="k" cx="791.3" cy="1117.7" r="1.2"/>
<path class="w" d="M 922.2,1155.5 L 973.1,1123.5 L 977.2,1122.9 L 977.7,1125.2 L 949.8,1141.8 L 926.5,1158.4 L 923.1,1158.4 Z"/>
<path class="p" d="M 925.1,1154.9 L 952.7,1138 L 976,1124.7"/>
<!-- 17_cavity.svg -->
<path class="w" d="M 953.6,1252.5 L 968.3,1246.2 L 972.5,1248.3 L 972.5,1262.9 L 957.4,1270.2 L 953.6,1268.1 Z"/>
<path class="p" d="M 957.4,1255.6 L 972.5,1248.3 M 957.4,1255.6 L 957.4,1270.2 M 961,1254.5 L 961,1267.1 M 964.1,1252.9 L 964.1,1265.4 M 968.7,1250.8 L 968.7,1264"/>
<path class="w" d="M 793.7,1205.4 L 862.7,1162.1 L 864.1,1160 L 951.5,1215.2 Q 957.4,1219 957.4,1225.3 L 957.4,1301 L 881.5,1348.2 L 880.5,1262.9 Z"/>
<path class="p" d="M 864.1,1160 L 865.8,1163 L 952.6,1218 M 862.7,1162.1 L 865.8,1163 M 796.8,1206.5 L 863.7,1165.1"/>
<path class="p" d="M 880.5,1262.9 L 954.7,1217.3 M 883,1265.4 L 955.3,1221.1"/>
<path class="h" d="M 803.1,1200.2 L 804.8,1201.4"/>
<path class="h" d="M 813.5,1193.7 L 815.2,1195"/>
<path class="h" d="M 824,1187.2 L 825.7,1188.5"/>
<path class="h" d="M 834.5,1180.7 L 836.1,1182"/>
<path class="h" d="M 844.9,1174.3 L 846.6,1175.5"/>
<path class="h" d="M 855.4,1167.8 L 857,1169"/>
<path class="p" d="M 805.2,1214.8 L 865.8,1169.2 L 941.1,1216.9 L 869,1254.5 Z"/>
<path class="p" d="M 821.9,1211.1 L 863.7,1185.5 L 910.8,1214.8 L 867.9,1241 Z"/>
<path class="p" d="M 805.2,1214.8 L 821.9,1211.1 M 865.8,1169.2 L 863.7,1185.5 M 941.1,1216.9 L 910.8,1214.8 M 869,1254.5 L 867.9,1241"/>
<path class="t" d="M 806.9,1216.5 L 867.9,1256.2 L 869,1254.5"/>
<ellipse class="p" cx="866.9" cy="1213.8" rx="30.9" ry="20.5"/>
<path class="t" d="M 836.5,1216.9 Q 838.6,1233.2 867.9,1235.7 Q 893,1233.6 897.6,1219"/>
<path class="p" d="M 849.1,1181.4 L 862.7,1174.7 L 864.1,1177.2 L 850.8,1183.9 Z"/>
<ellipse class="p" cx="850.1" cy="1183" rx="1.3" ry="1.7"/>
<ellipse class="p" cx="843.2" cy="1239.9" rx="2.1" ry="1.7"/>
<path class="p" d="M 883,1275 L 944.2,1237 Q 948.4,1235.3 951.5,1230.1"/>
<path class="p" d="M 883,1280.9 L 943.2,1243.7 Q 948.4,1243.7 952,1237.8"/>
<path class="t" d="M 883,1277.5 L 943.6,1239.9"/>
<path class="p" d="M 883,1291.8 L 944.2,1253.7 Q 948.4,1252 951.5,1246.8"/>
<path class="p" d="M 883,1297.6 L 943.2,1260.4 Q 948.4,1260.4 952,1254.5"/>
<path class="t" d="M 883,1294.3 L 943.6,1256.6"/>
<path class="p" d="M 883,1308.5 L 944.2,1270.4 Q 948.4,1268.8 951.5,1263.5"/>
<path class="p" d="M 883,1314.3 L 943.2,1277.1 Q 948.4,1277.1 952,1271.3"/>
<path class="t" d="M 883,1311 L 943.6,1273.4"/>
<path class="p" d="M 883,1325.2 L 944.2,1287.2 Q 948.4,1285.5 951.5,1280.3"/>
<path class="p" d="M 883,1331.1 L 943.2,1293.9 Q 948.4,1293.9 952,1288"/>
<path class="t" d="M 883,1327.7 L 943.6,1290.1"/>
<path class="p" d="M 883,1341.9 L 944.2,1303.9 Q 948.4,1302.2 951.5,1297"/>
<path class="p" d="M 883,1347.8 L 943.2,1310.6 Q 948.4,1310.6 952,1304.7"/>
<path class="t" d="M 883,1344.5 L 943.6,1306.8"/>
<path class="p" d="M 951.5,1229.5 L 951.5,1304.7 M 948.4,1231.5 L 948.4,1244.1 M 948.4,1288 L 948.4,1300.5 M 947.4,1244.1 Q 943.2,1254.5 947.4,1267.1 Q 943.2,1277.5 948.4,1288"/>
<ellipse class="p" cx="939.4" cy="1247.9" rx="4.2" ry="1.7" transform="rotate(-25 939.4 1247.9)"/>
<path class="w" d="M 767.1,1195 L 880,1264 L 882.5,1264.6 L 881.7,1381.3 L 878.4,1380 L 767.1,1312 Z"/>
<path class="p" d="M 878.4,1266.3 L 878.4,1380 M 880,1264 L 878.4,1266.3"/>
<path class="w" d="M 767.1,1195 L 770.5,1193.1 L 883,1262.1 L 882.5,1264.6"/>
<path class="w" d="M 775.9,1220 Q 775.9,1215.2 780.1,1218 L 867.9,1270.2 Q 871,1272.3 871,1276.5 L 871,1353.9 Q 871,1358 867.5,1356 L 779.7,1300.1 Q 775.9,1297.4 775.9,1293.9 Z"/>
<clipPath id="cav"><path d="M 775.9,1220 Q 775.9,1215.2 780.1,1218 L 867.9,1270.2 Q 871,1272.3 871,1276.5 L 871,1353.9 Q 871,1358 867.5,1356 L 779.7,1300.1 Q 775.9,1297.4 775.9,1293.9 Z"/></clipPath><g clip-path="url(#cav)">
<path class="p" d="M 779.7,1219 L 779.7,1294.3 L 786.4,1299.5 L 827.1,1303.7 L 865.8,1327.3 L 865.8,1350.7 M 827.1,1303.7 L 869,1276.5 M 786.4,1299.5 L 847,1260.8 L 871,1275.5 M 865.8,1327.3 L 871,1323.5 M 847,1260.8 L 847,1233.6"/>
<path class="p" d="M 781.8,1224.6 Q 781.8,1222.1 784.3,1221.7 L 788.5,1219.6 Q 791,1219.2 791,1222.1 L 791,1231.5 Q 791,1233.6 788.5,1234.3 L 784.3,1235.9 Q 781.8,1235.9 781.8,1233.4 Z"/>
<path class="p" d="M 783.9,1225.3 L 783.9,1232.2 Q 784.3,1233.4 786.4,1232.6 L 786.4,1224.2"/>
<path class="p" d="M 791,1221.1 L 838.6,1192.9 M 791,1225.9 L 834.5,1200.2"/>
<path class="t" d="M 793.7,1220.5 Q 791.6,1224.2 793.7,1226.7"/>
<path class="p" d="M 781.8,1241 Q 781.8,1238.4 784.3,1238 L 788.5,1235.9 Q 791,1235.5 791,1238.4 L 791,1247.9 Q 791,1249.9 788.5,1250.6 L 784.3,1252.2 Q 781.8,1252.2 781.8,1249.7 Z"/>
<path class="p" d="M 783.9,1241.6 L 783.9,1248.5 Q 784.3,1249.7 786.4,1248.9 L 786.4,1240.5"/>
<path class="p" d="M 791,1237.4 L 838.6,1209.2 M 791,1242.2 L 834.5,1216.5"/>
<path class="t" d="M 793.7,1236.8 Q 791.6,1240.5 793.7,1243"/>
<path class="p" d="M 781.8,1257.3 Q 781.8,1254.8 784.3,1254.3 L 788.5,1252.2 Q 791,1251.8 791,1254.8 L 791,1264.2 Q 791,1266.3 788.5,1266.9 L 784.3,1268.6 Q 781.8,1268.6 781.8,1266 Z"/>
<path class="p" d="M 783.9,1257.9 L 783.9,1264.8 Q 784.3,1266 786.4,1265.2 L 786.4,1256.8"/>
<path class="p" d="M 791,1253.7 L 838.6,1225.5 M 791,1258.5 L 834.5,1232.8"/>
<path class="t" d="M 793.7,1253.1 Q 791.6,1256.8 793.7,1259.4"/>
<path class="p" d="M 781.8,1273.6 Q 781.8,1271.1 784.3,1270.6 L 788.5,1268.6 Q 791,1268.1 791,1271.1 L 791,1280.5 Q 791,1282.6 788.5,1283.2 L 784.3,1284.9 Q 781.8,1284.9 781.8,1282.4 Z"/>
<path class="p" d="M 783.9,1274.2 L 783.9,1281.1 Q 784.3,1282.4 786.4,1281.5 L 786.4,1273.2"/>
<path class="p" d="M 791,1270 L 838.6,1241.8 M 791,1274.8 L 834.5,1249.1"/>
<path class="t" d="M 793.7,1269.4 Q 791.6,1273.2 793.7,1275.7"/>
<path class="p" d="M 781.8,1289.9 Q 781.8,1287.4 784.3,1287 L 788.5,1284.9 Q 791,1284.4 791,1287.4 L 791,1296.8 Q 791,1298.9 788.5,1299.5 L 784.3,1301.2 Q 781.8,1301.2 781.8,1298.7 Z"/>
<path class="p" d="M 783.9,1290.5 L 783.9,1297.4 Q 784.3,1298.7 786.4,1297.8 L 786.4,1289.5"/>
<path class="p" d="M 791,1286.3 L 838.6,1258.1 M 791,1291.1 L 834.5,1265.4"/>
<path class="t" d="M 793.7,1285.7 Q 791.6,1289.5 793.7,1292"/>
<path class="p" d="M 865.8,1327.3 L 869,1350.7 L 865.8,1350.7"/>
</g>
<path class="p" d="M 775.9,1220 Q 775.9,1215.2 780.1,1218 L 867.9,1270.2 Q 871,1272.3 871,1276.5 L 871,1353.9 Q 871,1358 867.5,1356 L 779.7,1300.1 Q 775.9,1297.4 775.9,1293.9 Z"/>
<path class="t" d="M 778.4,1222.1 L 778.4,1294.7"/>
<path class="h" d="M 789.5,1324.6 L 801.9,1332.3"/>
<path class="h" d="M 806.8,1335.3 L 819.2,1343"/>
<path class="h" d="M 824,1346 L 836.4,1353.7"/>
<path class="h" d="M 841.3,1356.7 L 853.7,1364.5"/>
<path class="p" d="M 790.1,1326.7 L 802.5,1334.4"/>
<path class="p" d="M 807.4,1337.4 L 819.8,1345.1"/>
<path class="p" d="M 824.6,1348.1 L 837,1355.8"/>
<path class="p" d="M 841.9,1358.8 L 854.3,1366.5"/>
<circle class="k" cx="774.9" cy="1212.3" r="1.2"/>
<circle class="k" cx="869.6" cy="1271.7" r="1.2"/>
<circle class="k" cx="788" cy="1323.1" r="1.2"/>
<circle class="k" cx="815.6" cy="1329.4" r="1.2"/>
<circle class="k" cx="830.3" cy="1338.2" r="1.2"/>
<circle class="k" cx="869.6" cy="1361.2" r="1.2"/>
<circle class="k" cx="805.2" cy="1330.2" r="1.2"/>
<circle class="k" cx="839.7" cy="1352.4" r="1.2"/>
<path class="p" d="M 770.1,1301.6 Q 769.2,1304.7 770.1,1308.5 Q 771.3,1308.9 771.3,1305.1 Q 771.3,1301.8 770.1,1301.6 Z"/>
<path class="h" d="M 874.6,1367.5 L 874.6,1374.8 M 880,1350.7 L 880,1359.1 M 880,1363.3 L 880,1371.6 M 880.9,1373.7 L 880.9,1379"/>
<!-- 18_back11.svg -->
<path class="l" d="M 1011,1375.3 L 1022,1375.3"/>
<path class="w" d="M 910.7,1352 L 1006,1292.2 L 1010.8,1294.3 L 1010.8,1418.2 L 917.3,1479.6 L 913.6,1481.6 L 913.6,1354.2 Z"/>
<path class="p" d="M 913.6,1354.2 L 1010.8,1294.3 M 916.5,1356.8 L 916.5,1480.1 M 919.5,1361.5 L 919.5,1469.1 M 921.2,1367.3 L 921.2,1451.6 M 1010.8,1418.2 L 1007.5,1416.7"/>
<path class="p" d="M 913.6,1382.5 L 909.6,1384.1 L 909.6,1390.5 L 913.6,1392 M 910.7,1386.2 L 912.9,1385.5 L 912.9,1389.1 L 910.7,1389.8 Z"/>
<path class="p" d="M 913.6,1450.9 L 909.6,1452.5 L 909.6,1456.3 L 913.6,1455.3 M 912.5,1452.4 L 912.5,1454.5"/>
<ellipse class="p" cx="912.5" cy="1420.8" rx="0.9" ry="1.3"/>
<path class="p" d="M 918,1361.5 L 989.6,1318.5 Q 993.6,1317.1 995.1,1322.2 L 995.1,1412.7"/>
<path class="h" d="M 920.2,1360.9 L 988.5,1319.6"/>
<path class="p" d="M 924.1,1369 L 974.4,1338.9 Q 978.8,1337.9 979.8,1341.1 L 979.8,1410.9"/>
<path class="h" d="M 925.3,1368.4 L 974,1339.6"/>
<path class="p" d="M 916.3,1356.8 L 927.9,1384 M 918,1361.5 L 928.9,1381.8 M 1006.7,1302.1 L 958.7,1361.5 M 1007.5,1304 L 960.9,1363.6 M 1007.5,1412.1 L 961.6,1412.7 M 1006.7,1414.5 L 971.8,1416 M 918,1467.6 L 928.9,1436.4 M 920.2,1466.2 L 929.9,1438.5"/>
<path class="p" d="M 928.9,1387.6 Q 928.9,1383.6 932.5,1381.8 L 957.3,1366.1 Q 960.9,1364.4 960.9,1368.7 L 960.9,1415.3 Q 960.9,1418.2 958,1419.9 L 932.5,1435.6 Q 928.9,1437.4 928.9,1433.5 Z"/>
<path class="t" d="M 930.4,1388.4 Q 930.4,1385 933.3,1383.3 L 957.3,1368 M 930.4,1388.4 L 930.4,1432.7"/>
<path class="p" d="M 960.9,1413.1 L 1007.5,1412.1 M 960.9,1416.7 L 974.7,1416.4 L 990.7,1416.7"/>
<path class="p" d="M 918,1467.6 L 995.1,1419.6 Q 997.3,1418.2 998,1416 M 928.2,1449.9 L 990.7,1411.6 M 929.9,1438.5 L 931.1,1436.8"/>
<path class="t" d="M 920.2,1471.7 L 1006.7,1418.9"/>
<path class="p" d="M 946.8,1346.2 Q 948.5,1345.5 948.5,1348.4 L 948,1352.7 Q 946.8,1353.5 946.5,1351.3 Z M 946.8,1438.8 Q 948.5,1438.3 948.5,1441.2 L 948,1445.5 Q 946.8,1446.1 946.5,1444.1 Z"/>
<circle class="k" cx="998" cy="1297.5" r="1.2"/>
<circle class="k" cx="998.7" cy="1303.3" r="1.2"/>
<circle class="k" cx="968.9" cy="1315.6" r="1.2"/>
<circle class="k" cx="939.1" cy="1335" r="1.2"/>
<circle class="k" cx="925.3" cy="1344" r="1.2"/>
<circle class="k" cx="929.6" cy="1347.2" r="1.2"/>
<circle class="k" cx="998.7" cy="1422.5" r="1.2"/>
<circle class="k" cx="929.6" cy="1466.5" r="1.2"/>
<circle class="k" cx="918" cy="1467.6" r="1.2"/>
<!-- 19_strip.svg -->
<path class="l" d="M 894.6,1510 L 1021,1510"/>
<path class="w" d="M 886.3,1386.4 L 890.3,1387.6 L 894.6,1389.1 L 894.6,1409.3 L 893.5,1410.4 L 894.4,1416.2 L 893.3,1424.3 L 894.6,1425.4 L 894.6,1464.7 L 893.5,1465.8 L 893.5,1477.4 L 894.6,1478.5 L 894.6,1513.2 L 893.5,1515.5 L 893.5,1520.1 L 894.6,1521.3 L 894.6,1534 L 891.8,1536.3 L 891.8,1542.1 L 886,1537.4 L 886.3,1425.4 Q 883.1,1410.4 886.3,1398.9 Z"/>
<path class="p" d="M 890.9,1387.9 L 890.9,1541.1 M 888.6,1393.1 L 888.6,1539.2 M 886.3,1398.9 L 887.7,1388.5"/>
<path class="h" d="M 887.3,1387.3 L 886.8,1397.7"/>
<path class="h" d="M 891.8,1411.6 L 894.1,1412.1 M 891.8,1421.4 L 893.7,1422 M 892.6,1474.5 L 893.7,1475.1 M 892.6,1516.7 L 893.7,1517.2"/>
<circle class="k" cx="888.6" cy="1439.3" r="1.2"/>
<circle class="k" cx="888.6" cy="1452.6" r="1.2"/>
<circle class="k" cx="888.6" cy="1505.1" r="1.2"/>
<circle class="k" cx="888.6" cy="1517.8" r="1.2"/>
<!-- 20_lower.svg -->
<path class="l" d="M 706.4,1239.1 L 737.3,1239.1"/>
<path class="l" d="M 706.4,1289.5 L 743.3,1289.5"/>
<path class="l" d="M 706.4,1330 L 735.5,1330"/>
<path class="l" d="M 707.3,1391.8 L 743.6,1391.8 L 757.3,1403.6"/>
<path class="l" d="M 707.3,1431.5 L 723.6,1431.5 L 733.6,1419.1"/>
<path class="l" d="M 707.3,1469.5 L 730,1469.5 L 780,1402.7"/>
<path class="w" d="M 737.3,1237.3 L 739.1,1235.5 L 752.7,1228.2 L 754.5,1229.1 L 754.2,1231.3 L 742.2,1239.1 L 740.4,1241.5 L 737.8,1240.4 Z"/>
<path class="h" d="M 740.9,1234.9 L 742.4,1238.2"/>
<path class="h" d="M 742.7,1233.9 L 744.2,1237.2"/>
<path class="h" d="M 744.5,1232.9 L 746,1236.2"/>
<path class="h" d="M 746.4,1231.9 L 747.8,1235.2"/>
<path class="h" d="M 748.2,1230.9 L 749.6,1234.2"/>
<path class="h" d="M 750,1229.9 L 751.5,1233.2"/>
<path class="h" d="M 751.8,1228.9 L 753.3,1232.2"/>
<path class="p" d="M 737.3,1237.3 L 740.4,1241.5 M 738.5,1236 L 741.8,1239.6"/>
<path class="w" d="M 743.6,1280.9 L 747.6,1278.2 L 754.2,1282.2 L 754.2,1309.1 L 749.5,1312.7 L 743.6,1308.7 Z"/>
<path class="p" d="M 743.6,1280.9 L 749.5,1285.1 L 754.2,1282.2 M 749.5,1285.1 L 749.5,1312.7 M 747.6,1278.2 L 748,1282.7"/>
<path class="h" d="M 746.2,1296.4 L 746.2,1301.8"/>
<circle class="k" cx="752" cy="1293.6" r="1.2"/>
<circle class="k" cx="752" cy="1298.2" r="1.2"/>
<circle class="k" cx="752" cy="1303.3" r="1.2"/>
<path class="w" d="M 735.5,1330 L 738.2,1327.6 L 747.6,1333.1 L 749.1,1324 L 754.5,1325.5 L 856.7,1388.2 L 860,1392.7 L 859.1,1399.1 L 862.2,1405.5 L 860.9,1408.4 L 856.4,1407.3 Z"/>
<path class="p" d="M 738.2,1327.6 L 858.2,1403.6 L 862.2,1405.5 M 736.4,1330.9 L 856.7,1406.2"/>
<path class="p" d="M 737.3,1329.1 L 857.5,1405.1"/>
<path class="p" d="M 747.6,1333.1 L 859.1,1399.1 M 749.1,1324 L 750.9,1329.1 L 856.4,1392.7 L 856.7,1388.2 M 856.4,1392.7 L 856,1399.1"/>
<path class="p" d="M 772.7,1340 L 782.7,1345.8 L 782.2,1347.6 L 772.4,1341.8 Z M 824.5,1371.8 L 835.5,1378.2 L 834.9,1380 L 824,1373.6 Z"/>
<path class="h" d="M 774.5,1342.2 L 780.9,1345.8 M 826.4,1374.2 L 833.6,1378.2"/>
<circle class="k" cx="761.8" cy="1333.6" r="1.2"/>
<circle class="k" cx="804.5" cy="1360.4" r="1.2"/>
<circle class="k" cx="846.9" cy="1386.4" r="1.2"/>
<path class="w" d="M 754.5,1405.5 L 761.8,1401.8 L 762.7,1400 L 767.6,1399.1 L 769.5,1402.2 L 768.2,1405.5 L 765.1,1407.3 L 763.6,1410 L 757.8,1412.4 L 754.9,1410 Z"/>
<path class="p" d="M 754.5,1405.5 L 757.8,1407.6 L 763.6,1404 L 761.8,1401.8 M 757.8,1407.6 L 757.8,1412.4"/>
<path class="h" d="M 764.7,1400.4 L 765.8,1405.5"/>
<path class="h" d="M 765.8,1400.2 L 766.9,1405.1"/>
<path class="h" d="M 766.9,1400 L 768,1404.7"/>
<path class="h" d="M 768,1399.8 L 769.1,1404.4"/>
<path class="w" d="M 740.4,1410.5 L 745.5,1408.7 L 750,1412.7 L 751.3,1418.5 L 749.1,1423.6 L 743.3,1427.3 L 739.1,1425.8 L 734.9,1421.5 L 734.2,1416.4 L 736.4,1412.7 Z"/>
<ellipse class="w" cx="739.1" cy="1418.5" rx="4.7" ry="6.2" transform="rotate(-35 739.1 1418.5)"/>
<path class="p" d="M 740.4,1410.5 L 743.6,1415.5 L 744.5,1421.8 L 743.3,1427.3 M 745.5,1408.7 L 747.6,1414.5 L 748.2,1420 L 749.1,1423.6 M 743.6,1415.5 L 747.6,1414.5 M 744.5,1421.8 L 748.7,1420.4"/>
<path class="w" d="M 772.7,1388.2 L 777.3,1384.5 L 784,1383.6 L 789.1,1384.5 L 793.6,1388.2 L 791.8,1391.8 L 789.1,1393.1 L 785.5,1399.1 L 780,1402.7 L 774.5,1399.1 L 772.4,1392.7 Z"/>
<ellipse class="h" cx="777.3" cy="1393.6" rx="4.4" ry="7.3" transform="rotate(-30 777.3 1393.6)"/>
<ellipse class="p" cx="777.8" cy="1393.6" rx="2.7" ry="5.1" transform="rotate(-30 777.8 1393.6)"/>
<path class="p" d="M 777.3,1384.5 L 781.8,1390.9 L 785.5,1399.1 M 784,1383.6 L 787.3,1390 L 789.1,1393.1 M 789.1,1384.5 L 790.9,1388.2 L 791.8,1391.8 M 787.3,1390 L 790.9,1388.2"/>
<!-- 21_562.svg -->
<path class="l" d="M 706.1,317.2 L 811.3,317.2"/>
<path class="w" d="M 811.3,313.3 L 813.5,311.1 L 817.1,309.6 L 817.5,306 L 821.5,303.1 L 824.4,303.8 L 828,301.6 L 831.2,301.9 L 831.6,304.5 L 828,306.3 L 828,318.4 L 831.2,317.6 L 831.6,321.3 L 828,324.2 L 827.7,328.5 L 823.6,330 L 819.3,331.5 L 817.1,329.3 L 817.5,324.2 L 813.5,318.4 L 811.7,316.5 Z"/>
<path class="p" d="M 821.5,303.1 L 821.9,330 M 824.4,303.8 L 824.4,329.6 M 828,306.3 L 826.3,307.2 L 826.3,328.1 L 827.7,328.5 M 817.5,306 L 821.5,307.5"/>
<path class="h" d="M 818.1,305.7 L 822.2,302.8 M 818.1,330 L 820.1,331"/>
<ellipse class="p" cx="813.5" cy="314" rx="1.2" ry="1.7"/>
</svg>
</body></html>
